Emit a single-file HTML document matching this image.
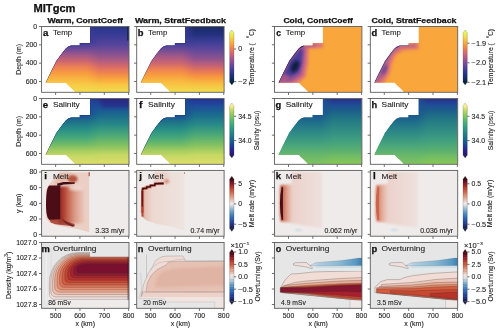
<!DOCTYPE html>
<html><head><meta charset="utf-8"><style>
html,body{margin:0;padding:0;background:#fff;width:500px;height:332px;overflow:hidden}
svg{display:block;will-change:transform}
text{font-family:"Liberation Sans", sans-serif}
</style></head><body>
<svg width="500" height="332" viewBox="0 0 500 332">
<defs><linearGradient id="lmaskg" gradientUnits="objectBoundingBox" x1="0" y1="0" x2="1" y2="0"><stop offset="0" stop-color="#fff"/><stop offset="0.78" stop-color="#fff"/><stop offset="1" stop-color="#000"/></linearGradient><linearGradient id="g1" gradientUnits="userSpaceOnUse" x1="0" y1="26.5" x2="0" y2="92.3"><stop offset="0.000" stop-color="#27358a"/><stop offset="0.129" stop-color="#383b95"/><stop offset="0.281" stop-color="#57459c"/><stop offset="0.418" stop-color="#875191"/><stop offset="0.524" stop-color="#b25d80"/><stop offset="0.608" stop-color="#d66a6a"/><stop offset="0.699" stop-color="#ee8350"/><stop offset="0.790" stop-color="#f8a23e"/><stop offset="0.889" stop-color="#f8c742"/><stop offset="1.000" stop-color="#f0dc52"/></linearGradient><linearGradient id="g2" gradientUnits="userSpaceOnUse" x1="0" y1="26.5" x2="0" y2="92.3"><stop offset="0.251" stop-color="#3c3c96"/><stop offset="0.342" stop-color="#6c4a98"/><stop offset="0.433" stop-color="#a05888"/><stop offset="0.524" stop-color="#cc6670"/><stop offset="0.616" stop-color="#ec8054"/><stop offset="0.707" stop-color="#f89c40"/><stop offset="0.798" stop-color="#f8b640"/><stop offset="0.889" stop-color="#f8cc46"/><stop offset="1.000" stop-color="#f0dc52"/></linearGradient><mask id="m2" maskUnits="userSpaceOnUse" x="41.6" y="26.5" width="58" height="65.8"><rect x="41.6" y="26.5" width="58" height="65.8" fill="url(#lmaskg)"/></mask><clipPath id="c1"><polygon points="90.00,26.50 129.00,26.50 129.00,92.30 75.40,92.30 73.80,90.50 72.40,89.00 70.80,87.50 69.20,86.00 67.60,84.50 65.90,82.70 45.60,82.70 50.30,73.00 56.30,61.00 61.60,53.80 64.00,50.80 65.80,48.40 68.20,46.60 71.20,45.40 79.80,45.40 79.80,43.00 90.00,43.00"/></clipPath><linearGradient id="g3" gradientUnits="userSpaceOnUse" x1="0" y1="26.5" x2="0" y2="92.3"><stop offset="0.000" stop-color="#1c2a68"/><stop offset="0.114" stop-color="#22317c"/><stop offset="0.220" stop-color="#3a3c94"/><stop offset="0.342" stop-color="#5c479c"/><stop offset="0.479" stop-color="#8a5290"/><stop offset="0.585" stop-color="#bf6079"/><stop offset="0.676" stop-color="#e67658"/><stop offset="0.767" stop-color="#f7983f"/><stop offset="0.874" stop-color="#f8c040"/><stop offset="1.000" stop-color="#f0dc52"/></linearGradient><linearGradient id="g4" gradientUnits="userSpaceOnUse" x1="0" y1="26.5" x2="0" y2="92.3"><stop offset="0.251" stop-color="#3c3c96"/><stop offset="0.342" stop-color="#6a4a98"/><stop offset="0.448" stop-color="#a05888"/><stop offset="0.555" stop-color="#cc6670"/><stop offset="0.646" stop-color="#ec8054"/><stop offset="0.737" stop-color="#f89c40"/><stop offset="0.828" stop-color="#f8b840"/><stop offset="0.919" stop-color="#f8cc46"/><stop offset="1.000" stop-color="#f0dc52"/></linearGradient><mask id="m4" maskUnits="userSpaceOnUse" x="136.7" y="26.5" width="58" height="65.8"><rect x="136.7" y="26.5" width="58" height="65.8" fill="url(#lmaskg)"/></mask><clipPath id="c2"><polygon points="185.10,26.50 224.10,26.50 224.10,92.30 170.50,92.30 168.90,90.50 167.50,89.00 165.90,87.50 164.30,86.00 162.70,84.50 161.00,82.70 140.70,82.70 145.40,73.00 151.40,61.00 156.70,53.80 159.10,50.80 160.90,48.40 163.30,46.60 166.30,45.40 174.90,45.40 174.90,43.00 185.10,43.00"/></clipPath><clipPath id="c3"><polygon points="322.90,26.50 361.90,26.50 361.90,92.30 308.30,92.30 306.70,90.50 305.30,89.00 303.70,87.50 302.10,86.00 300.50,84.50 298.80,82.70 278.50,82.70 283.20,73.00 289.20,61.00 294.50,53.80 296.90,50.80 298.70,48.40 301.10,46.60 304.10,45.40 312.70,45.40 312.70,43.00 322.90,43.00"/></clipPath><clipPath id="c4"><polygon points="418.70,26.50 457.70,26.50 457.70,92.30 404.10,92.30 402.50,90.50 401.10,89.00 399.50,87.50 397.90,86.00 396.30,84.50 394.60,82.70 374.30,82.70 379.00,73.00 385.00,61.00 390.30,53.80 392.70,50.80 394.50,48.40 396.90,46.60 399.90,45.40 408.50,45.40 408.50,43.00 418.70,43.00"/></clipPath><filter id="blur2" x="-20%" y="-20%" width="140%" height="140%"><feGaussianBlur stdDeviation="1.6"/></filter><linearGradient id="g5" gradientUnits="userSpaceOnUse" x1="0" y1="98.5" x2="0" y2="164.3"><stop offset="0.000" stop-color="#2a2d8a"/><stop offset="0.106" stop-color="#1f4a9a"/><stop offset="0.243" stop-color="#1a688e"/><stop offset="0.395" stop-color="#278887"/><stop offset="0.547" stop-color="#48a779"/><stop offset="0.699" stop-color="#7dbf62"/><stop offset="0.851" stop-color="#c4d762"/><stop offset="1.000" stop-color="#e0de6c"/></linearGradient><linearGradient id="g6" gradientUnits="userSpaceOnUse" x1="0" y1="98.5" x2="0" y2="164.3"><stop offset="0.251" stop-color="#1c4c96"/><stop offset="0.350" stop-color="#1e7088"/><stop offset="0.456" stop-color="#268c86"/><stop offset="0.578" stop-color="#40a47c"/><stop offset="0.699" stop-color="#70ba68"/><stop offset="0.790" stop-color="#a4cc60"/><stop offset="0.881" stop-color="#c8d864"/><stop offset="1.000" stop-color="#e0de6c"/></linearGradient><mask id="m6" maskUnits="userSpaceOnUse" x="41.6" y="98.5" width="58" height="65.8"><rect x="41.6" y="98.5" width="58" height="65.8" fill="url(#lmaskg)"/></mask><clipPath id="c5"><polygon points="90.00,98.50 129.00,98.50 129.00,164.30 75.40,164.30 73.80,162.50 72.40,161.00 70.80,159.50 69.20,158.00 67.60,156.50 65.90,154.70 45.60,154.70 50.30,145.00 56.30,133.00 61.60,125.80 64.00,122.80 65.80,120.40 68.20,118.60 71.20,117.40 79.80,117.40 79.80,115.00 90.00,115.00"/></clipPath><linearGradient id="g7" gradientUnits="userSpaceOnUse" x1="0" y1="98.5" x2="0" y2="164.3"><stop offset="0.000" stop-color="#26309a"/><stop offset="0.106" stop-color="#1f4c9a"/><stop offset="0.243" stop-color="#1a6a8e"/><stop offset="0.395" stop-color="#288a87"/><stop offset="0.547" stop-color="#4aa878"/><stop offset="0.699" stop-color="#80c062"/><stop offset="0.851" stop-color="#c4d762"/><stop offset="1.000" stop-color="#e0de6c"/></linearGradient><linearGradient id="g8" gradientUnits="userSpaceOnUse" x1="0" y1="98.5" x2="0" y2="164.3"><stop offset="0.251" stop-color="#1c4c96"/><stop offset="0.350" stop-color="#1e7088"/><stop offset="0.456" stop-color="#268c86"/><stop offset="0.578" stop-color="#40a47c"/><stop offset="0.699" stop-color="#70ba68"/><stop offset="0.790" stop-color="#a4cc60"/><stop offset="0.881" stop-color="#c8d864"/><stop offset="1.000" stop-color="#e0de6c"/></linearGradient><mask id="m8" maskUnits="userSpaceOnUse" x="136.7" y="98.5" width="58" height="65.8"><rect x="136.7" y="98.5" width="58" height="65.8" fill="url(#lmaskg)"/></mask><clipPath id="c6"><polygon points="185.10,98.50 224.10,98.50 224.10,164.30 170.50,164.30 168.90,162.50 167.50,161.00 165.90,159.50 164.30,158.00 162.70,156.50 161.00,154.70 140.70,154.70 145.40,145.00 151.40,133.00 156.70,125.80 159.10,122.80 160.90,120.40 163.30,118.60 166.30,117.40 174.90,117.40 174.90,115.00 185.10,115.00"/></clipPath><linearGradient id="g9" gradientUnits="userSpaceOnUse" x1="0" y1="98.5" x2="0" y2="164.3"><stop offset="0.000" stop-color="#2a2f8e"/><stop offset="0.099" stop-color="#1e4d95"/><stop offset="0.205" stop-color="#1b6388"/><stop offset="0.327" stop-color="#247985"/><stop offset="0.479" stop-color="#318b84"/><stop offset="0.631" stop-color="#3f9f80"/><stop offset="0.783" stop-color="#59af71"/><stop offset="0.904" stop-color="#77bf61"/><stop offset="1.000" stop-color="#8ac858"/></linearGradient><linearGradient id="g10" gradientUnits="userSpaceOnUse" x1="0" y1="98.5" x2="0" y2="164.3"><stop offset="0.251" stop-color="#1d5690"/><stop offset="0.365" stop-color="#1f6e8a"/><stop offset="0.486" stop-color="#2a8487"/><stop offset="0.608" stop-color="#389682"/><stop offset="0.729" stop-color="#4ca87a"/><stop offset="0.851" stop-color="#66b66c"/><stop offset="1.000" stop-color="#80c460"/></linearGradient><mask id="m10" maskUnits="userSpaceOnUse" x="274.5" y="98.5" width="58" height="65.8"><rect x="274.5" y="98.5" width="58" height="65.8" fill="url(#lmaskg)"/></mask><clipPath id="c7"><polygon points="322.90,98.50 361.90,98.50 361.90,164.30 308.30,164.30 306.70,162.50 305.30,161.00 303.70,159.50 302.10,158.00 300.50,156.50 298.80,154.70 278.50,154.70 283.20,145.00 289.20,133.00 294.50,125.80 296.90,122.80 298.70,120.40 301.10,118.60 304.10,117.40 312.70,117.40 312.70,115.00 322.90,115.00"/></clipPath><linearGradient id="g11" gradientUnits="userSpaceOnUse" x1="0" y1="98.5" x2="0" y2="164.3"><stop offset="0.000" stop-color="#2a2f8e"/><stop offset="0.099" stop-color="#1e4d95"/><stop offset="0.205" stop-color="#1b6388"/><stop offset="0.327" stop-color="#247985"/><stop offset="0.479" stop-color="#318b84"/><stop offset="0.631" stop-color="#3f9f80"/><stop offset="0.783" stop-color="#59af71"/><stop offset="0.904" stop-color="#77bf61"/><stop offset="1.000" stop-color="#8ac858"/></linearGradient><linearGradient id="g12" gradientUnits="userSpaceOnUse" x1="0" y1="98.5" x2="0" y2="164.3"><stop offset="0.251" stop-color="#1d5690"/><stop offset="0.365" stop-color="#1f6e8a"/><stop offset="0.486" stop-color="#2a8487"/><stop offset="0.608" stop-color="#389682"/><stop offset="0.729" stop-color="#4ca87a"/><stop offset="0.851" stop-color="#66b66c"/><stop offset="1.000" stop-color="#80c460"/></linearGradient><mask id="m12" maskUnits="userSpaceOnUse" x="370.3" y="98.5" width="58" height="65.8"><rect x="370.3" y="98.5" width="58" height="65.8" fill="url(#lmaskg)"/></mask><clipPath id="c8"><polygon points="418.70,98.50 457.70,98.50 457.70,164.30 404.10,164.30 402.50,162.50 401.10,161.00 399.50,159.50 397.90,158.00 396.30,156.50 394.60,154.70 374.30,154.70 379.00,145.00 385.00,133.00 390.30,125.80 392.70,122.80 394.50,120.40 396.90,118.60 399.90,117.40 408.50,117.40 408.50,115.00 418.70,115.00"/></clipPath><filter id="bl06" x="-10%" y="-10%" width="120%" height="120%"><feGaussianBlur stdDeviation="0.6"/></filter><filter id="bl1" x="-20%" y="-20%" width="140%" height="140%"><feGaussianBlur stdDeviation="1.0"/></filter><filter id="bl15" x="-30%" y="-30%" width="160%" height="160%"><feGaussianBlur stdDeviation="1.5"/></filter><filter id="bl25" x="-30%" y="-30%" width="160%" height="160%"><feGaussianBlur stdDeviation="2.5"/></filter><clipPath id="pc9"><rect x="41.6" y="170.4" width="87.4" height="65.8"/></clipPath><linearGradient id="g13" gradientUnits="userSpaceOnUse" x1="58.6" y1="0" x2="85.6" y2="0"><stop offset="0.000" stop-color="#8a2228"/><stop offset="0.150" stop-color="#a83a2c"/><stop offset="0.350" stop-color="#c46650"/><stop offset="0.600" stop-color="#dc9a88"/><stop offset="0.850" stop-color="#e6bcae"/><stop offset="1.000" stop-color="#ebcfc5"/></linearGradient><clipPath id="pc10"><rect x="136.7" y="170.4" width="87.4" height="65.8"/></clipPath><linearGradient id="g14" gradientUnits="userSpaceOnUse" x1="141.7" y1="0" x2="184.7" y2="0"><stop offset="0.000" stop-color="#d88670"/><stop offset="0.080" stop-color="#e6c0b2"/><stop offset="0.250" stop-color="#ecd8d0"/><stop offset="1.000" stop-color="#eee4e0"/></linearGradient><clipPath id="pc11"><rect x="274.5" y="170.4" width="87.4" height="65.8"/></clipPath><linearGradient id="g15" gradientUnits="userSpaceOnUse" x1="279.5" y1="0" x2="322.5" y2="0"><stop offset="0.000" stop-color="#e3b3a4"/><stop offset="0.300" stop-color="#ebd2ca"/><stop offset="1.000" stop-color="#eee0dc"/></linearGradient><linearGradient id="g16" gradientUnits="userSpaceOnUse" x1="279.5" y1="0" x2="292.5" y2="0"><stop offset="0.000" stop-color="#b8402e"/><stop offset="0.250" stop-color="#cc6a52"/><stop offset="0.600" stop-color="#e0a492"/><stop offset="1.000" stop-color="#ebd0c8"/></linearGradient><clipPath id="pc12"><rect x="370.3" y="170.4" width="87.4" height="65.8"/></clipPath><linearGradient id="g17" gradientUnits="userSpaceOnUse" x1="375.3" y1="0" x2="418.3" y2="0"><stop offset="0.000" stop-color="#e6b8a8"/><stop offset="0.300" stop-color="#ebd2ca"/><stop offset="1.000" stop-color="#eee2de"/></linearGradient><linearGradient id="g18" gradientUnits="userSpaceOnUse" x1="375.3" y1="0" x2="388.3" y2="0"><stop offset="0.000" stop-color="#d06a52"/><stop offset="0.300" stop-color="#dc9078"/><stop offset="0.650" stop-color="#e6b8a8"/><stop offset="1.000" stop-color="#ebd2ca"/></linearGradient><clipPath id="pc13"><rect x="41.6" y="242.5" width="87.4" height="65.8"/></clipPath><clipPath id="pc14"><rect x="136.7" y="242.5" width="87.4" height="65.8"/></clipPath><clipPath id="pc15"><rect x="274.5" y="242.5" width="87.4" height="65.8"/></clipPath><linearGradient id="g19" gradientUnits="userSpaceOnUse" x1="311.9" y1="0" x2="361.9" y2="0"><stop offset="0.000" stop-color="#d4e2ea"/><stop offset="0.120" stop-color="#b2cede"/><stop offset="0.550" stop-color="#8ab8d2"/><stop offset="0.880" stop-color="#5898c2"/><stop offset="1.000" stop-color="#3a80b2"/></linearGradient><clipPath id="pc16"><rect x="370.3" y="242.5" width="87.4" height="65.8"/></clipPath><linearGradient id="g20" gradientUnits="userSpaceOnUse" x1="407.70000000000005" y1="0" x2="457.70000000000005" y2="0"><stop offset="0.000" stop-color="#d4e2ea"/><stop offset="0.120" stop-color="#b2cede"/><stop offset="0.550" stop-color="#8ab8d2"/><stop offset="0.880" stop-color="#5898c2"/><stop offset="1.000" stop-color="#3a80b2"/></linearGradient><linearGradient id="cb21" gradientUnits="userSpaceOnUse" x1="0" y1="32.8" x2="0" y2="82.2"><stop offset="0.0000" stop-color="#e8f65e"/><stop offset="0.0417" stop-color="#ece955"/><stop offset="0.0833" stop-color="#f0db4c"/><stop offset="0.1250" stop-color="#f4cc44"/><stop offset="0.1667" stop-color="#f8bb3e"/><stop offset="0.2083" stop-color="#f8aa3c"/><stop offset="0.2500" stop-color="#f7993e"/><stop offset="0.2917" stop-color="#f38a45"/><stop offset="0.3333" stop-color="#ed7b54"/><stop offset="0.3750" stop-color="#e46f62"/><stop offset="0.4167" stop-color="#d56671"/><stop offset="0.4583" stop-color="#c55f80"/><stop offset="0.5000" stop-color="#b25a88"/><stop offset="0.5417" stop-color="#a05491"/><stop offset="0.5833" stop-color="#8d4f96"/><stop offset="0.6250" stop-color="#7a4a9b"/><stop offset="0.6667" stop-color="#67469c"/><stop offset="0.7083" stop-color="#54419c"/><stop offset="0.7500" stop-color="#423c9a"/><stop offset="0.7917" stop-color="#323895"/><stop offset="0.8333" stop-color="#25348c"/><stop offset="0.8750" stop-color="#1c317a"/><stop offset="0.9167" stop-color="#142e68"/><stop offset="0.9583" stop-color="#0c2853"/><stop offset="1.0000" stop-color="#04233e"/></linearGradient><linearGradient id="cb22" gradientUnits="userSpaceOnUse" x1="0" y1="32.8" x2="0" y2="82.2"><stop offset="0.0000" stop-color="#e8f65e"/><stop offset="0.0417" stop-color="#ece955"/><stop offset="0.0833" stop-color="#f0db4c"/><stop offset="0.1250" stop-color="#f4cc44"/><stop offset="0.1667" stop-color="#f8bb3e"/><stop offset="0.2083" stop-color="#f8aa3c"/><stop offset="0.2500" stop-color="#f7993e"/><stop offset="0.2917" stop-color="#f38a45"/><stop offset="0.3333" stop-color="#ed7b54"/><stop offset="0.3750" stop-color="#e46f62"/><stop offset="0.4167" stop-color="#d56671"/><stop offset="0.4583" stop-color="#c55f80"/><stop offset="0.5000" stop-color="#b25a88"/><stop offset="0.5417" stop-color="#a05491"/><stop offset="0.5833" stop-color="#8d4f96"/><stop offset="0.6250" stop-color="#7a4a9b"/><stop offset="0.6667" stop-color="#67469c"/><stop offset="0.7083" stop-color="#54419c"/><stop offset="0.7500" stop-color="#423c9a"/><stop offset="0.7917" stop-color="#323895"/><stop offset="0.8333" stop-color="#25348c"/><stop offset="0.8750" stop-color="#1c317a"/><stop offset="0.9167" stop-color="#142e68"/><stop offset="0.9583" stop-color="#0c2853"/><stop offset="1.0000" stop-color="#04233e"/></linearGradient><linearGradient id="cb23" gradientUnits="userSpaceOnUse" x1="0" y1="105.8" x2="0" y2="155.2"><stop offset="0.0000" stop-color="#fdef9a"/><stop offset="0.0417" stop-color="#e3e482"/><stop offset="0.0833" stop-color="#c9d96a"/><stop offset="0.1250" stop-color="#b0d262"/><stop offset="0.1667" stop-color="#98cd5e"/><stop offset="0.2083" stop-color="#82c761"/><stop offset="0.2500" stop-color="#6dc068"/><stop offset="0.2917" stop-color="#5bba6f"/><stop offset="0.3333" stop-color="#4bb277"/><stop offset="0.3750" stop-color="#3eab7d"/><stop offset="0.4167" stop-color="#35a281"/><stop offset="0.4583" stop-color="#2e9985"/><stop offset="0.5000" stop-color="#2a9088"/><stop offset="0.5417" stop-color="#25868a"/><stop offset="0.5833" stop-color="#227d8b"/><stop offset="0.6250" stop-color="#20748c"/><stop offset="0.6667" stop-color="#1d698e"/><stop offset="0.7083" stop-color="#1b5f91"/><stop offset="0.7500" stop-color="#1a5294"/><stop offset="0.7917" stop-color="#1b4598"/><stop offset="0.8333" stop-color="#1e3798"/><stop offset="0.8750" stop-color="#242a93"/><stop offset="0.9167" stop-color="#291f8c"/><stop offset="0.9583" stop-color="#2a1c7c"/><stop offset="1.0000" stop-color="#2a186c"/></linearGradient><linearGradient id="cb24" gradientUnits="userSpaceOnUse" x1="0" y1="105.8" x2="0" y2="155.2"><stop offset="0.0000" stop-color="#fdef9a"/><stop offset="0.0417" stop-color="#e3e482"/><stop offset="0.0833" stop-color="#c9d96a"/><stop offset="0.1250" stop-color="#b0d262"/><stop offset="0.1667" stop-color="#98cd5e"/><stop offset="0.2083" stop-color="#82c761"/><stop offset="0.2500" stop-color="#6dc068"/><stop offset="0.2917" stop-color="#5bba6f"/><stop offset="0.3333" stop-color="#4bb277"/><stop offset="0.3750" stop-color="#3eab7d"/><stop offset="0.4167" stop-color="#35a281"/><stop offset="0.4583" stop-color="#2e9985"/><stop offset="0.5000" stop-color="#2a9088"/><stop offset="0.5417" stop-color="#25868a"/><stop offset="0.5833" stop-color="#227d8b"/><stop offset="0.6250" stop-color="#20748c"/><stop offset="0.6667" stop-color="#1d698e"/><stop offset="0.7083" stop-color="#1b5f91"/><stop offset="0.7500" stop-color="#1a5294"/><stop offset="0.7917" stop-color="#1b4598"/><stop offset="0.8333" stop-color="#1e3798"/><stop offset="0.8750" stop-color="#242a93"/><stop offset="0.9167" stop-color="#291f8c"/><stop offset="0.9583" stop-color="#2a1c7c"/><stop offset="1.0000" stop-color="#2a186c"/></linearGradient><linearGradient id="cb25" gradientUnits="userSpaceOnUse" x1="0" y1="179.0" x2="0" y2="228.6"><stop offset="0.0000" stop-color="#3c0912"/><stop offset="0.0417" stop-color="#5e111c"/><stop offset="0.0833" stop-color="#801926"/><stop offset="0.1250" stop-color="#9a262c"/><stop offset="0.1667" stop-color="#af3831"/><stop offset="0.2083" stop-color="#c14b38"/><stop offset="0.2500" stop-color="#ca6149"/><stop offset="0.2917" stop-color="#d2785b"/><stop offset="0.3333" stop-color="#d98f74"/><stop offset="0.3750" stop-color="#dea690"/><stop offset="0.4167" stop-color="#e5bead"/><stop offset="0.4583" stop-color="#ebd5cc"/><stop offset="0.5000" stop-color="#f1edec"/><stop offset="0.5417" stop-color="#ced8e0"/><stop offset="0.5833" stop-color="#aac2d5"/><stop offset="0.6250" stop-color="#88aecc"/><stop offset="0.6667" stop-color="#669bc5"/><stop offset="0.7083" stop-color="#4889bf"/><stop offset="0.7500" stop-color="#3a78b8"/><stop offset="0.7917" stop-color="#2d66b1"/><stop offset="0.8333" stop-color="#2855a5"/><stop offset="0.8750" stop-color="#264497"/><stop offset="0.9167" stop-color="#233582"/><stop offset="0.9583" stop-color="#1d2863"/><stop offset="1.0000" stop-color="#181c43"/></linearGradient><linearGradient id="cb26" gradientUnits="userSpaceOnUse" x1="0" y1="179.0" x2="0" y2="228.6"><stop offset="0.0000" stop-color="#3c0912"/><stop offset="0.0417" stop-color="#5e111c"/><stop offset="0.0833" stop-color="#801926"/><stop offset="0.1250" stop-color="#9a262c"/><stop offset="0.1667" stop-color="#af3831"/><stop offset="0.2083" stop-color="#c14b38"/><stop offset="0.2500" stop-color="#ca6149"/><stop offset="0.2917" stop-color="#d2785b"/><stop offset="0.3333" stop-color="#d98f74"/><stop offset="0.3750" stop-color="#dea690"/><stop offset="0.4167" stop-color="#e5bead"/><stop offset="0.4583" stop-color="#ebd5cc"/><stop offset="0.5000" stop-color="#f1edec"/><stop offset="0.5417" stop-color="#ced8e0"/><stop offset="0.5833" stop-color="#aac2d5"/><stop offset="0.6250" stop-color="#88aecc"/><stop offset="0.6667" stop-color="#669bc5"/><stop offset="0.7083" stop-color="#4889bf"/><stop offset="0.7500" stop-color="#3a78b8"/><stop offset="0.7917" stop-color="#2d66b1"/><stop offset="0.8333" stop-color="#2855a5"/><stop offset="0.8750" stop-color="#264497"/><stop offset="0.9167" stop-color="#233582"/><stop offset="0.9583" stop-color="#1d2863"/><stop offset="1.0000" stop-color="#181c43"/></linearGradient><linearGradient id="cb27" gradientUnits="userSpaceOnUse" x1="0" y1="252.10000000000002" x2="0" y2="301.7"><stop offset="0.0000" stop-color="#500e18"/><stop offset="0.0500" stop-color="#500e18"/><stop offset="0.0500" stop-color="#7a1724"/><stop offset="0.1000" stop-color="#7a1724"/><stop offset="0.1000" stop-color="#9a262c"/><stop offset="0.1500" stop-color="#9a262c"/><stop offset="0.1500" stop-color="#b33c32"/><stop offset="0.2000" stop-color="#b33c32"/><stop offset="0.2000" stop-color="#c4543e"/><stop offset="0.2500" stop-color="#c4543e"/><stop offset="0.2500" stop-color="#cf6e54"/><stop offset="0.3000" stop-color="#cf6e54"/><stop offset="0.3000" stop-color="#d88a6e"/><stop offset="0.3500" stop-color="#d88a6e"/><stop offset="0.3500" stop-color="#dea690"/><stop offset="0.4000" stop-color="#dea690"/><stop offset="0.4000" stop-color="#e6c2b3"/><stop offset="0.4500" stop-color="#e6c2b3"/><stop offset="0.4500" stop-color="#eddfd9"/><stop offset="0.5000" stop-color="#eddfd9"/><stop offset="0.5000" stop-color="#dce0e5"/><stop offset="0.5500" stop-color="#dce0e5"/><stop offset="0.5500" stop-color="#b1c7d7"/><stop offset="0.6000" stop-color="#b1c7d7"/><stop offset="0.6000" stop-color="#88aecc"/><stop offset="0.6500" stop-color="#88aecc"/><stop offset="0.6500" stop-color="#5f97c4"/><stop offset="0.7000" stop-color="#5f97c4"/><stop offset="0.7000" stop-color="#4382bc"/><stop offset="0.7500" stop-color="#4382bc"/><stop offset="0.7500" stop-color="#326db4"/><stop offset="0.8000" stop-color="#326db4"/><stop offset="0.8000" stop-color="#2959a8"/><stop offset="0.8500" stop-color="#2959a8"/><stop offset="0.8500" stop-color="#264497"/><stop offset="0.9000" stop-color="#264497"/><stop offset="0.9000" stop-color="#22327c"/><stop offset="0.9500" stop-color="#22327c"/><stop offset="0.9500" stop-color="#1b2456"/><stop offset="1.0000" stop-color="#1b2456"/></linearGradient><linearGradient id="cb28" gradientUnits="userSpaceOnUse" x1="0" y1="252.10000000000002" x2="0" y2="301.7"><stop offset="0.0000" stop-color="#500e18"/><stop offset="0.0500" stop-color="#500e18"/><stop offset="0.0500" stop-color="#7a1724"/><stop offset="0.1000" stop-color="#7a1724"/><stop offset="0.1000" stop-color="#9a262c"/><stop offset="0.1500" stop-color="#9a262c"/><stop offset="0.1500" stop-color="#b33c32"/><stop offset="0.2000" stop-color="#b33c32"/><stop offset="0.2000" stop-color="#c4543e"/><stop offset="0.2500" stop-color="#c4543e"/><stop offset="0.2500" stop-color="#cf6e54"/><stop offset="0.3000" stop-color="#cf6e54"/><stop offset="0.3000" stop-color="#d88a6e"/><stop offset="0.3500" stop-color="#d88a6e"/><stop offset="0.3500" stop-color="#dea690"/><stop offset="0.4000" stop-color="#dea690"/><stop offset="0.4000" stop-color="#e6c2b3"/><stop offset="0.4500" stop-color="#e6c2b3"/><stop offset="0.4500" stop-color="#eddfd9"/><stop offset="0.5000" stop-color="#eddfd9"/><stop offset="0.5000" stop-color="#dce0e5"/><stop offset="0.5500" stop-color="#dce0e5"/><stop offset="0.5500" stop-color="#b1c7d7"/><stop offset="0.6000" stop-color="#b1c7d7"/><stop offset="0.6000" stop-color="#88aecc"/><stop offset="0.6500" stop-color="#88aecc"/><stop offset="0.6500" stop-color="#5f97c4"/><stop offset="0.7000" stop-color="#5f97c4"/><stop offset="0.7000" stop-color="#4382bc"/><stop offset="0.7500" stop-color="#4382bc"/><stop offset="0.7500" stop-color="#326db4"/><stop offset="0.8000" stop-color="#326db4"/><stop offset="0.8000" stop-color="#2959a8"/><stop offset="0.8500" stop-color="#2959a8"/><stop offset="0.8500" stop-color="#264497"/><stop offset="0.9000" stop-color="#264497"/><stop offset="0.9000" stop-color="#22327c"/><stop offset="0.9500" stop-color="#22327c"/><stop offset="0.9500" stop-color="#1b2456"/><stop offset="1.0000" stop-color="#1b2456"/></linearGradient></defs>
<rect width="500" height="332" fill="#fff"/>
<text x="33.50" y="12.20" font-size="10.123000000000001" text-anchor="start" fill="#111" font-weight="bold" stroke="#111" stroke-width="0.25" textLength="42.02" lengthAdjust="spacingAndGlyphs" >MITgcm</text>
<text x="85.30" y="22.80" font-size="7.897" text-anchor="middle" fill="#111" font-weight="bold" stroke="#111" stroke-width="0.25" textLength="75.40" lengthAdjust="spacingAndGlyphs" >Warm, ConstCoeff</text>
<text x="180.40" y="22.80" font-size="7.897" text-anchor="middle" fill="#111" font-weight="bold" stroke="#111" stroke-width="0.25" textLength="90.99" lengthAdjust="spacingAndGlyphs" >Warm, StratFeedback</text>
<text x="318.20" y="22.80" font-size="7.897" text-anchor="middle" fill="#111" font-weight="bold" stroke="#111" stroke-width="0.25" textLength="69.45" lengthAdjust="spacingAndGlyphs" >Cold, ConstCoeff</text>
<text x="414.00" y="22.80" font-size="7.897" text-anchor="middle" fill="#111" font-weight="bold" stroke="#111" stroke-width="0.25" textLength="85.04" lengthAdjust="spacingAndGlyphs" >Cold, StratFeedback</text>
<g clip-path="url(#c1)"><rect x="41.6" y="26.5" width="87.4" height="65.8" fill="url(#g1)"/><rect x="41.6" y="26.5" width="58" height="65.8" fill="url(#g2)" mask="url(#m2)"/><rect filter="url(#bl06)" x="127.0" y="24.5" width="4" height="16" fill="#0c1838" opacity="0.6"/>
<polyline points="45.40,82.90 50.30,73.00 56.30,61.00 61.60,53.80 64.00,50.80 65.80,48.40 68.20,46.60 71.20,45.40 79.80,45.40 79.80,43.00 90.00,43.00 90.00,26.50" fill="none" stroke="#2a3288" stroke-width="1.0" stroke-opacity="0.75"/>
</g>
<g clip-path="url(#c2)"><rect x="136.7" y="26.5" width="87.4" height="65.8" fill="url(#g3)"/><rect x="136.7" y="26.5" width="58" height="65.8" fill="url(#g4)" mask="url(#m4)"/>
<polyline points="140.50,82.90 145.40,73.00 151.40,61.00 156.70,53.80 159.10,50.80 160.90,48.40 163.30,46.60 166.30,45.40 174.90,45.40 174.90,43.00 185.10,43.00 185.10,26.50" fill="none" stroke="#2a3288" stroke-width="1.0" stroke-opacity="0.6"/>
</g>
<g clip-path="url(#c3)"><rect x="274.5" y="26.5" width="87.4" height="65.8" fill="#f9a63c"/>
<g filter="url(#blur2)"><polygon points="276.50,84.50 287.50,60.50 293.50,52.50 299.50,45.50 307.50,44.00 322.90,42.50 322.90,47.50 308.50,48.50 308.00,62.50 305.50,76.50 296.50,84.50" fill="#dc707a"/><polygon points="277.50,83.50 288.50,60.50 294.50,53.50 300.50,46.50 307.50,45.00 316.50,43.50 316.50,46.00 305.50,47.00 304.50,62.50 302.00,75.00 291.50,82.50" fill="#9a5292"/><polygon points="282.50,76.50 289.20,61.50 294.50,54.00 300.50,47.50 303.00,50.50 302.00,62.50 299.00,72.50 288.50,78.50" fill="#4a3c98"/></g>
<polyline filter="url(#bl06)" points="278.70,82.50 283.20,73.00 289.20,61.00 294.50,53.80 298.70,48.40 304.10,45.40" fill="none" stroke="#23286a" stroke-width="1.3"/>
<ellipse filter="url(#bl15)" cx="295.0" cy="66.5" rx="3.6" ry="6.5" transform="rotate(28 295.0 66.5)" fill="#0e1c40"/>
<polygon filter="url(#bl15)" points="278.50,82.50 284.50,73.50 290.50,76.50 286.50,81.50" fill="#b05a88" opacity="0.8"/>
</g>
<g clip-path="url(#c4)"><rect x="370.3" y="26.5" width="87.4" height="65.8" fill="#f9a63c"/>
<g filter="url(#blur2)"><polygon points="372.30,84.50 383.30,60.50 389.30,52.50 395.30,45.50 403.30,44.00 418.70,42.50 418.70,49.50 404.30,50.50 396.30,54.50 392.30,62.50 390.30,72.50 384.30,83.50" fill="#e87c66"/><polygon points="373.30,83.50 384.30,60.50 390.30,52.50 396.30,46.50 403.30,45.00 416.30,44.00 416.30,47.00 400.30,48.00 392.30,54.50 388.80,63.50 386.80,73.50 379.30,82.50" fill="#b05e88"/></g>
<polyline filter="url(#bl06)" points="374.30,82.50 379.00,73.00 385.00,61.00 390.30,53.80 394.50,48.40 399.90,45.40 408.50,45.40" fill="none" stroke="#3c3aa0" stroke-width="1.3"/>
<ellipse filter="url(#bl15)" cx="384.3" cy="69.5" rx="2.2" ry="5" transform="rotate(28 384.3 69.5)" fill="#6a4498" opacity="0.9"/>
</g>
<rect x="41.60" y="26.50" width="87.4" height="65.8" fill="none" stroke="#5c5c5c" stroke-width="0.9"/>
<line x1="55.60" y1="92.30" x2="55.60" y2="94.90" stroke="#5c5c5c" stroke-width="0.9"/>
<line x1="79.95" y1="92.30" x2="79.95" y2="94.90" stroke="#5c5c5c" stroke-width="0.9"/>
<line x1="104.30" y1="92.30" x2="104.30" y2="94.90" stroke="#5c5c5c" stroke-width="0.9"/>
<line x1="128.65" y1="92.30" x2="128.65" y2="94.90" stroke="#5c5c5c" stroke-width="0.9"/>
<line x1="39.00" y1="26.50" x2="41.60" y2="26.50" stroke="#5c5c5c" stroke-width="0.9"/>
<text x="37.20" y="28.70" font-size="6.6000000000000005" text-anchor="end" fill="#222" stroke="#222" stroke-width="0.1" textLength="3.82" lengthAdjust="spacingAndGlyphs" >0</text>
<line x1="39.00" y1="44.83" x2="41.60" y2="44.83" stroke="#5c5c5c" stroke-width="0.9"/>
<text x="37.20" y="47.03" font-size="6.6000000000000005" text-anchor="end" fill="#222" stroke="#222" stroke-width="0.1" textLength="11.45" lengthAdjust="spacingAndGlyphs" >200</text>
<line x1="39.00" y1="63.16" x2="41.60" y2="63.16" stroke="#5c5c5c" stroke-width="0.9"/>
<text x="37.20" y="65.36" font-size="6.6000000000000005" text-anchor="end" fill="#222" stroke="#222" stroke-width="0.1" textLength="11.45" lengthAdjust="spacingAndGlyphs" >400</text>
<line x1="39.00" y1="81.50" x2="41.60" y2="81.50" stroke="#5c5c5c" stroke-width="0.9"/>
<text x="37.20" y="83.70" font-size="6.6000000000000005" text-anchor="end" fill="#222" stroke="#222" stroke-width="0.1" textLength="11.45" lengthAdjust="spacingAndGlyphs" >600</text>
<text x="45.60" y="35.50" font-size="8.48" text-anchor="middle" fill="#111" font-weight="bold" stroke="#111" stroke-width="0.25" textLength="5.40" lengthAdjust="spacingAndGlyphs" >a</text>
<text x="52.90" y="35.40" font-size="7.9750000000000005" text-anchor="start" fill="#222" stroke="#222" stroke-width="0.1" textLength="19.32" lengthAdjust="spacingAndGlyphs" >Temp</text>
<rect x="136.70" y="26.50" width="87.4" height="65.8" fill="none" stroke="#5c5c5c" stroke-width="0.9"/>
<line x1="150.70" y1="92.30" x2="150.70" y2="94.90" stroke="#5c5c5c" stroke-width="0.9"/>
<line x1="175.05" y1="92.30" x2="175.05" y2="94.90" stroke="#5c5c5c" stroke-width="0.9"/>
<line x1="199.40" y1="92.30" x2="199.40" y2="94.90" stroke="#5c5c5c" stroke-width="0.9"/>
<line x1="223.75" y1="92.30" x2="223.75" y2="94.90" stroke="#5c5c5c" stroke-width="0.9"/>
<line x1="134.10" y1="26.50" x2="136.70" y2="26.50" stroke="#5c5c5c" stroke-width="0.9"/>
<line x1="134.10" y1="44.83" x2="136.70" y2="44.83" stroke="#5c5c5c" stroke-width="0.9"/>
<line x1="134.10" y1="63.16" x2="136.70" y2="63.16" stroke="#5c5c5c" stroke-width="0.9"/>
<line x1="134.10" y1="81.50" x2="136.70" y2="81.50" stroke="#5c5c5c" stroke-width="0.9"/>
<text x="140.70" y="35.50" font-size="8.48" text-anchor="middle" fill="#111" font-weight="bold" stroke="#111" stroke-width="0.25" textLength="5.73" lengthAdjust="spacingAndGlyphs" >b</text>
<text x="148.00" y="35.40" font-size="7.9750000000000005" text-anchor="start" fill="#222" stroke="#222" stroke-width="0.1" textLength="19.32" lengthAdjust="spacingAndGlyphs" >Temp</text>
<rect x="274.50" y="26.50" width="87.4" height="65.8" fill="none" stroke="#5c5c5c" stroke-width="0.9"/>
<line x1="288.50" y1="92.30" x2="288.50" y2="94.90" stroke="#5c5c5c" stroke-width="0.9"/>
<line x1="312.85" y1="92.30" x2="312.85" y2="94.90" stroke="#5c5c5c" stroke-width="0.9"/>
<line x1="337.20" y1="92.30" x2="337.20" y2="94.90" stroke="#5c5c5c" stroke-width="0.9"/>
<line x1="361.55" y1="92.30" x2="361.55" y2="94.90" stroke="#5c5c5c" stroke-width="0.9"/>
<line x1="271.90" y1="26.50" x2="274.50" y2="26.50" stroke="#5c5c5c" stroke-width="0.9"/>
<line x1="271.90" y1="44.83" x2="274.50" y2="44.83" stroke="#5c5c5c" stroke-width="0.9"/>
<line x1="271.90" y1="63.16" x2="274.50" y2="63.16" stroke="#5c5c5c" stroke-width="0.9"/>
<line x1="271.90" y1="81.50" x2="274.50" y2="81.50" stroke="#5c5c5c" stroke-width="0.9"/>
<text x="278.50" y="35.50" font-size="8.48" text-anchor="middle" fill="#111" font-weight="bold" stroke="#111" stroke-width="0.25" textLength="4.74" lengthAdjust="spacingAndGlyphs" >c</text>
<text x="285.80" y="35.40" font-size="7.9750000000000005" text-anchor="start" fill="#222" stroke="#222" stroke-width="0.1" textLength="19.32" lengthAdjust="spacingAndGlyphs" >Temp</text>
<rect x="370.30" y="26.50" width="87.4" height="65.8" fill="none" stroke="#5c5c5c" stroke-width="0.9"/>
<line x1="384.30" y1="92.30" x2="384.30" y2="94.90" stroke="#5c5c5c" stroke-width="0.9"/>
<line x1="408.65" y1="92.30" x2="408.65" y2="94.90" stroke="#5c5c5c" stroke-width="0.9"/>
<line x1="433.00" y1="92.30" x2="433.00" y2="94.90" stroke="#5c5c5c" stroke-width="0.9"/>
<line x1="457.35" y1="92.30" x2="457.35" y2="94.90" stroke="#5c5c5c" stroke-width="0.9"/>
<line x1="367.70" y1="26.50" x2="370.30" y2="26.50" stroke="#5c5c5c" stroke-width="0.9"/>
<line x1="367.70" y1="44.83" x2="370.30" y2="44.83" stroke="#5c5c5c" stroke-width="0.9"/>
<line x1="367.70" y1="63.16" x2="370.30" y2="63.16" stroke="#5c5c5c" stroke-width="0.9"/>
<line x1="367.70" y1="81.50" x2="370.30" y2="81.50" stroke="#5c5c5c" stroke-width="0.9"/>
<text x="374.30" y="35.50" font-size="8.48" text-anchor="middle" fill="#111" font-weight="bold" stroke="#111" stroke-width="0.25" textLength="5.73" lengthAdjust="spacingAndGlyphs" >d</text>
<text x="381.60" y="35.40" font-size="7.9750000000000005" text-anchor="start" fill="#222" stroke="#222" stroke-width="0.1" textLength="19.32" lengthAdjust="spacingAndGlyphs" >Temp</text>
<g clip-path="url(#c5)"><rect x="41.6" y="98.5" width="87.4" height="65.8" fill="url(#g5)"/><rect x="41.6" y="98.5" width="58" height="65.8" fill="url(#g6)" mask="url(#m6)"/>
<rect filter="url(#bl15)" x="101.6" y="95.5" width="30" height="12" fill="#2c2480" opacity="0.55"/>
<polyline points="45.40,154.90 50.30,145.00 56.30,133.00 61.60,125.80 64.00,122.80 65.80,120.40 68.20,118.60 71.20,117.40 79.80,117.40 79.80,115.00 90.00,115.00 90.00,98.50" fill="none" stroke="#242c8a" stroke-width="1.0" stroke-opacity="0.7"/>
</g>
<rect x="41.60" y="98.50" width="87.4" height="65.8" fill="none" stroke="#5c5c5c" stroke-width="0.9"/>
<line x1="55.60" y1="164.30" x2="55.60" y2="166.90" stroke="#5c5c5c" stroke-width="0.9"/>
<line x1="79.95" y1="164.30" x2="79.95" y2="166.90" stroke="#5c5c5c" stroke-width="0.9"/>
<line x1="104.30" y1="164.30" x2="104.30" y2="166.90" stroke="#5c5c5c" stroke-width="0.9"/>
<line x1="128.65" y1="164.30" x2="128.65" y2="166.90" stroke="#5c5c5c" stroke-width="0.9"/>
<line x1="39.00" y1="98.50" x2="41.60" y2="98.50" stroke="#5c5c5c" stroke-width="0.9"/>
<text x="37.20" y="100.70" font-size="6.6000000000000005" text-anchor="end" fill="#222" stroke="#222" stroke-width="0.1" textLength="3.82" lengthAdjust="spacingAndGlyphs" >0</text>
<line x1="39.00" y1="116.83" x2="41.60" y2="116.83" stroke="#5c5c5c" stroke-width="0.9"/>
<text x="37.20" y="119.03" font-size="6.6000000000000005" text-anchor="end" fill="#222" stroke="#222" stroke-width="0.1" textLength="11.45" lengthAdjust="spacingAndGlyphs" >200</text>
<line x1="39.00" y1="135.16" x2="41.60" y2="135.16" stroke="#5c5c5c" stroke-width="0.9"/>
<text x="37.20" y="137.36" font-size="6.6000000000000005" text-anchor="end" fill="#222" stroke="#222" stroke-width="0.1" textLength="11.45" lengthAdjust="spacingAndGlyphs" >400</text>
<line x1="39.00" y1="153.50" x2="41.60" y2="153.50" stroke="#5c5c5c" stroke-width="0.9"/>
<text x="37.20" y="155.70" font-size="6.6000000000000005" text-anchor="end" fill="#222" stroke="#222" stroke-width="0.1" textLength="11.45" lengthAdjust="spacingAndGlyphs" >600</text>
<text x="45.60" y="107.50" font-size="8.48" text-anchor="middle" fill="#111" font-weight="bold" stroke="#111" stroke-width="0.25" textLength="5.43" lengthAdjust="spacingAndGlyphs" >e</text>
<text x="52.90" y="107.40" font-size="7.9750000000000005" text-anchor="start" fill="#222" stroke="#222" stroke-width="0.1" textLength="26.82" lengthAdjust="spacingAndGlyphs" >Salinity</text>
<g clip-path="url(#c6)"><rect x="136.7" y="98.5" width="87.4" height="65.8" fill="url(#g7)"/><rect x="136.7" y="98.5" width="58" height="65.8" fill="url(#g8)" mask="url(#m8)"/>
<polyline points="140.50,154.90 145.40,145.00 151.40,133.00 156.70,125.80 159.10,122.80 160.90,120.40 163.30,118.60 166.30,117.40 174.90,117.40 174.90,115.00 185.10,115.00 185.10,98.50" fill="none" stroke="#242c8a" stroke-width="1.0" stroke-opacity="0.7"/>
</g>
<rect x="136.70" y="98.50" width="87.4" height="65.8" fill="none" stroke="#5c5c5c" stroke-width="0.9"/>
<line x1="150.70" y1="164.30" x2="150.70" y2="166.90" stroke="#5c5c5c" stroke-width="0.9"/>
<line x1="175.05" y1="164.30" x2="175.05" y2="166.90" stroke="#5c5c5c" stroke-width="0.9"/>
<line x1="199.40" y1="164.30" x2="199.40" y2="166.90" stroke="#5c5c5c" stroke-width="0.9"/>
<line x1="223.75" y1="164.30" x2="223.75" y2="166.90" stroke="#5c5c5c" stroke-width="0.9"/>
<line x1="134.10" y1="98.50" x2="136.70" y2="98.50" stroke="#5c5c5c" stroke-width="0.9"/>
<line x1="134.10" y1="116.83" x2="136.70" y2="116.83" stroke="#5c5c5c" stroke-width="0.9"/>
<line x1="134.10" y1="135.16" x2="136.70" y2="135.16" stroke="#5c5c5c" stroke-width="0.9"/>
<line x1="134.10" y1="153.50" x2="136.70" y2="153.50" stroke="#5c5c5c" stroke-width="0.9"/>
<text x="140.70" y="107.50" font-size="8.48" text-anchor="middle" fill="#111" font-weight="bold" stroke="#111" stroke-width="0.25" textLength="3.48" lengthAdjust="spacingAndGlyphs" >f</text>
<text x="148.00" y="107.40" font-size="7.9750000000000005" text-anchor="start" fill="#222" stroke="#222" stroke-width="0.1" textLength="26.82" lengthAdjust="spacingAndGlyphs" >Salinity</text>
<g clip-path="url(#c7)"><rect x="274.5" y="98.5" width="87.4" height="65.8" fill="url(#g9)"/><rect x="274.5" y="98.5" width="58" height="65.8" fill="url(#g10)" mask="url(#m10)"/>
</g>
<rect x="274.50" y="98.50" width="87.4" height="65.8" fill="none" stroke="#5c5c5c" stroke-width="0.9"/>
<line x1="288.50" y1="164.30" x2="288.50" y2="166.90" stroke="#5c5c5c" stroke-width="0.9"/>
<line x1="312.85" y1="164.30" x2="312.85" y2="166.90" stroke="#5c5c5c" stroke-width="0.9"/>
<line x1="337.20" y1="164.30" x2="337.20" y2="166.90" stroke="#5c5c5c" stroke-width="0.9"/>
<line x1="361.55" y1="164.30" x2="361.55" y2="166.90" stroke="#5c5c5c" stroke-width="0.9"/>
<line x1="271.90" y1="98.50" x2="274.50" y2="98.50" stroke="#5c5c5c" stroke-width="0.9"/>
<line x1="271.90" y1="116.83" x2="274.50" y2="116.83" stroke="#5c5c5c" stroke-width="0.9"/>
<line x1="271.90" y1="135.16" x2="274.50" y2="135.16" stroke="#5c5c5c" stroke-width="0.9"/>
<line x1="271.90" y1="153.50" x2="274.50" y2="153.50" stroke="#5c5c5c" stroke-width="0.9"/>
<text x="278.50" y="107.50" font-size="8.48" text-anchor="middle" fill="#111" font-weight="bold" stroke="#111" stroke-width="0.25" textLength="5.73" lengthAdjust="spacingAndGlyphs" >g</text>
<text x="285.80" y="107.40" font-size="7.9750000000000005" text-anchor="start" fill="#222" stroke="#222" stroke-width="0.1" textLength="26.82" lengthAdjust="spacingAndGlyphs" >Salinity</text>
<g clip-path="url(#c8)"><rect x="370.3" y="98.5" width="87.4" height="65.8" fill="url(#g11)"/><rect x="370.3" y="98.5" width="58" height="65.8" fill="url(#g12)" mask="url(#m12)"/>
</g>
<rect x="370.30" y="98.50" width="87.4" height="65.8" fill="none" stroke="#5c5c5c" stroke-width="0.9"/>
<line x1="384.30" y1="164.30" x2="384.30" y2="166.90" stroke="#5c5c5c" stroke-width="0.9"/>
<line x1="408.65" y1="164.30" x2="408.65" y2="166.90" stroke="#5c5c5c" stroke-width="0.9"/>
<line x1="433.00" y1="164.30" x2="433.00" y2="166.90" stroke="#5c5c5c" stroke-width="0.9"/>
<line x1="457.35" y1="164.30" x2="457.35" y2="166.90" stroke="#5c5c5c" stroke-width="0.9"/>
<line x1="367.70" y1="98.50" x2="370.30" y2="98.50" stroke="#5c5c5c" stroke-width="0.9"/>
<line x1="367.70" y1="116.83" x2="370.30" y2="116.83" stroke="#5c5c5c" stroke-width="0.9"/>
<line x1="367.70" y1="135.16" x2="370.30" y2="135.16" stroke="#5c5c5c" stroke-width="0.9"/>
<line x1="367.70" y1="153.50" x2="370.30" y2="153.50" stroke="#5c5c5c" stroke-width="0.9"/>
<text x="374.30" y="107.50" font-size="8.48" text-anchor="middle" fill="#111" font-weight="bold" stroke="#111" stroke-width="0.25" textLength="5.70" lengthAdjust="spacingAndGlyphs" >h</text>
<text x="381.60" y="107.40" font-size="7.9750000000000005" text-anchor="start" fill="#222" stroke="#222" stroke-width="0.1" textLength="26.82" lengthAdjust="spacingAndGlyphs" >Salinity</text>
<rect x="41.6" y="170.4" width="87.4" height="65.8" fill="#efebea"/>
<g clip-path="url(#pc9)">
<polygon filter="url(#bl06)" points="59.40,172.20 89.20,172.20 89.20,232.20 77.60,228.90 66.60,227.20 55.60,224.90 49.60,222.40 46.20,218.40 46.20,189.40 47.60,186.20" fill="#ebcfc5"/>
<rect filter="url(#bl1)" x="58.6" y="186.4" width="27" height="37" fill="url(#g13)"/>
<polygon filter="url(#bl1)" points="59.60,172.40 71.60,172.40 69.60,178.40 63.60,182.40 53.60,185.40" fill="#e6bcae"/>
<g filter="url(#bl06)">
<path d="M49.6,185.6 L60.3,185.4 L60.3,219.9 L50.6,220.4 Q45.800000000000004,219.4 46.0,203.4 Q46.2,186.4 49.6,185.6 Z" fill="#4c0b19"/>
<polygon points="57.20,183.40 60.60,182.80 63.60,182.00 74.60,182.00 74.60,184.00 63.60,184.60 59.60,185.70 57.20,185.70" fill="#3e0a16"/>
</g>
<ellipse filter="url(#bl1)" cx="72.6" cy="178.9" rx="5" ry="3.8" fill="#b04a30" opacity="0.9"/>
<ellipse filter="url(#bl15)" cx="76.6" cy="187.9" rx="8" ry="2.5" fill="#f2e0d8" opacity="0.9"/>
<polygon filter="url(#bl06)" points="49.60,219.40 60.60,218.90 67.60,221.40 74.60,223.90 74.60,226.40 66.60,225.60 55.60,224.20 50.60,222.40" fill="#a03a2c" opacity="0.85"/>
<polygon filter="url(#bl06)" points="61.60,218.40 67.60,222.40 74.60,225.40 72.60,226.90 65.60,223.40" fill="#5a1420" opacity="0.7"/>
<rect filter="url(#bl06)" x="88.6" y="172.20000000000002" width="1.2" height="4" fill="#b05040"/>
</g>
<rect x="41.60" y="170.40" width="87.4" height="65.8" fill="none" stroke="#5c5c5c" stroke-width="0.9"/>
<line x1="55.60" y1="236.20" x2="55.60" y2="238.80" stroke="#5c5c5c" stroke-width="0.9"/>
<line x1="79.95" y1="236.20" x2="79.95" y2="238.80" stroke="#5c5c5c" stroke-width="0.9"/>
<line x1="104.30" y1="236.20" x2="104.30" y2="238.80" stroke="#5c5c5c" stroke-width="0.9"/>
<line x1="128.65" y1="236.20" x2="128.65" y2="238.80" stroke="#5c5c5c" stroke-width="0.9"/>
<line x1="39.00" y1="172.00" x2="41.60" y2="172.00" stroke="#5c5c5c" stroke-width="0.9"/>
<text x="37.20" y="174.20" font-size="6.6000000000000005" text-anchor="end" fill="#222" stroke="#222" stroke-width="0.1" textLength="7.63" lengthAdjust="spacingAndGlyphs" >80</text>
<line x1="39.00" y1="187.60" x2="41.60" y2="187.60" stroke="#5c5c5c" stroke-width="0.9"/>
<text x="37.20" y="189.80" font-size="6.6000000000000005" text-anchor="end" fill="#222" stroke="#222" stroke-width="0.1" textLength="7.63" lengthAdjust="spacingAndGlyphs" >60</text>
<line x1="39.00" y1="203.40" x2="41.60" y2="203.40" stroke="#5c5c5c" stroke-width="0.9"/>
<text x="37.20" y="205.60" font-size="6.6000000000000005" text-anchor="end" fill="#222" stroke="#222" stroke-width="0.1" textLength="7.63" lengthAdjust="spacingAndGlyphs" >40</text>
<line x1="39.00" y1="219.00" x2="41.60" y2="219.00" stroke="#5c5c5c" stroke-width="0.9"/>
<text x="37.20" y="221.20" font-size="6.6000000000000005" text-anchor="end" fill="#222" stroke="#222" stroke-width="0.1" textLength="7.63" lengthAdjust="spacingAndGlyphs" >20</text>
<line x1="39.00" y1="234.40" x2="41.60" y2="234.40" stroke="#5c5c5c" stroke-width="0.9"/>
<text x="37.20" y="236.60" font-size="6.6000000000000005" text-anchor="end" fill="#222" stroke="#222" stroke-width="0.1" textLength="3.82" lengthAdjust="spacingAndGlyphs" >0</text>
<text x="45.60" y="179.40" font-size="8.48" text-anchor="middle" fill="#111" font-weight="bold" stroke="#111" stroke-width="0.25" textLength="2.74" lengthAdjust="spacingAndGlyphs" >i</text>
<text x="52.90" y="179.30" font-size="7.9750000000000005" text-anchor="start" fill="#222" stroke="#222" stroke-width="0.1" textLength="15.57" lengthAdjust="spacingAndGlyphs" >Melt</text>
<text x="124.50" y="233.30" font-size="6.6000000000000005" text-anchor="end" fill="#222" stroke="#222" stroke-width="0.1" textLength="29.15" lengthAdjust="spacingAndGlyphs" >3.33 m/yr</text>
<rect x="136.7" y="170.4" width="87.4" height="65.8" fill="#efebea"/>
<g clip-path="url(#pc10)">
<polygon filter="url(#bl06)" points="154.20,172.00 184.50,172.00 184.50,230.40 170.70,226.40 156.70,223.90 146.70,220.40 141.70,216.40 141.70,189.40 144.70,185.90 154.20,183.90" fill="url(#g14)"/>
<polygon filter="url(#bl1)" points="154.20,172.00 166.70,172.00 169.70,178.40 166.70,182.90 154.20,183.90" fill="#ead2ca"/>
<g filter="url(#bl06)">
<polyline points="142.30,212.90 142.50,189.90 143.00,188.40 146.50,188.20 146.90,187.00 150.20,186.80 150.60,185.40 154.70,185.20 155.10,183.80 163.70,183.40" fill="none" stroke="#c85a44" stroke-width="3.0" stroke-opacity="0.75"/>
<polyline points="142.50,189.90 143.00,188.40 146.50,188.20 146.90,187.00 150.20,186.80 150.60,185.40 154.70,185.20 155.10,183.80 163.70,183.40" fill="none" stroke="#3a0a14" stroke-width="1.6"/>
<polyline points="142.50,216.40 142.30,190.40" fill="none" stroke="#a83a30" stroke-width="2.0" stroke-opacity="0.8"/>
<polyline points="142.30,206.40 142.30,190.40" fill="none" stroke="#5a1420" stroke-width="1.2"/>
</g>
<ellipse filter="url(#bl1)" cx="166.7" cy="181.4" rx="2.5" ry="2.2" fill="#c8644c" opacity="0.6"/>
<circle cx="184.5" cy="173.0" r="0.6" fill="#902828"/>
</g>
<rect x="136.70" y="170.40" width="87.4" height="65.8" fill="none" stroke="#5c5c5c" stroke-width="0.9"/>
<line x1="150.70" y1="236.20" x2="150.70" y2="238.80" stroke="#5c5c5c" stroke-width="0.9"/>
<line x1="175.05" y1="236.20" x2="175.05" y2="238.80" stroke="#5c5c5c" stroke-width="0.9"/>
<line x1="199.40" y1="236.20" x2="199.40" y2="238.80" stroke="#5c5c5c" stroke-width="0.9"/>
<line x1="223.75" y1="236.20" x2="223.75" y2="238.80" stroke="#5c5c5c" stroke-width="0.9"/>
<line x1="134.10" y1="172.00" x2="136.70" y2="172.00" stroke="#5c5c5c" stroke-width="0.9"/>
<line x1="134.10" y1="187.60" x2="136.70" y2="187.60" stroke="#5c5c5c" stroke-width="0.9"/>
<line x1="134.10" y1="203.40" x2="136.70" y2="203.40" stroke="#5c5c5c" stroke-width="0.9"/>
<line x1="134.10" y1="219.00" x2="136.70" y2="219.00" stroke="#5c5c5c" stroke-width="0.9"/>
<line x1="134.10" y1="234.40" x2="136.70" y2="234.40" stroke="#5c5c5c" stroke-width="0.9"/>
<text x="140.70" y="179.40" font-size="8.48" text-anchor="middle" fill="#111" font-weight="bold" stroke="#111" stroke-width="0.25" textLength="2.74" lengthAdjust="spacingAndGlyphs" >j</text>
<text x="148.00" y="179.30" font-size="7.9750000000000005" text-anchor="start" fill="#222" stroke="#222" stroke-width="0.1" textLength="15.57" lengthAdjust="spacingAndGlyphs" >Melt</text>
<text x="219.60" y="233.30" font-size="6.6000000000000005" text-anchor="end" fill="#222" stroke="#222" stroke-width="0.1" textLength="29.15" lengthAdjust="spacingAndGlyphs" >0.74 m/yr</text>
<rect x="274.5" y="170.4" width="87.4" height="65.8" fill="#efebea"/>
<g clip-path="url(#pc11)">
<polygon filter="url(#bl1)" points="292.00,172.00 322.00,172.00 322.00,227.90 304.50,225.40 292.50,223.40 282.50,221.40 279.50,215.40 279.50,189.40 282.50,184.90 292.00,183.40" fill="url(#g15)"/>
<path filter="url(#bl1)" d="M280.5,184.9 L288.5,185.4 L292.5,186.4 L292.5,220.4 L288.5,221.4 L280.5,221.4 Z" fill="url(#g16)"/>
<path filter="url(#bl06)" d="M281.7,186.4 Q278.1,203.4 281.7,220.4 L283.1,219.4 Q282.7,203.4 283.1,187.4 Z" fill="#4a0c18"/>
<ellipse filter="url(#bl1)" cx="298.5" cy="229.9" rx="3.5" ry="1.2" fill="#c8dce6"/>
</g>
<rect x="274.50" y="170.40" width="87.4" height="65.8" fill="none" stroke="#5c5c5c" stroke-width="0.9"/>
<line x1="288.50" y1="236.20" x2="288.50" y2="238.80" stroke="#5c5c5c" stroke-width="0.9"/>
<line x1="312.85" y1="236.20" x2="312.85" y2="238.80" stroke="#5c5c5c" stroke-width="0.9"/>
<line x1="337.20" y1="236.20" x2="337.20" y2="238.80" stroke="#5c5c5c" stroke-width="0.9"/>
<line x1="361.55" y1="236.20" x2="361.55" y2="238.80" stroke="#5c5c5c" stroke-width="0.9"/>
<line x1="271.90" y1="172.00" x2="274.50" y2="172.00" stroke="#5c5c5c" stroke-width="0.9"/>
<line x1="271.90" y1="187.60" x2="274.50" y2="187.60" stroke="#5c5c5c" stroke-width="0.9"/>
<line x1="271.90" y1="203.40" x2="274.50" y2="203.40" stroke="#5c5c5c" stroke-width="0.9"/>
<line x1="271.90" y1="219.00" x2="274.50" y2="219.00" stroke="#5c5c5c" stroke-width="0.9"/>
<line x1="271.90" y1="234.40" x2="274.50" y2="234.40" stroke="#5c5c5c" stroke-width="0.9"/>
<text x="278.50" y="179.40" font-size="8.48" text-anchor="middle" fill="#111" font-weight="bold" stroke="#111" stroke-width="0.25" textLength="5.32" lengthAdjust="spacingAndGlyphs" >k</text>
<text x="285.80" y="179.30" font-size="7.9750000000000005" text-anchor="start" fill="#222" stroke="#222" stroke-width="0.1" textLength="15.57" lengthAdjust="spacingAndGlyphs" >Melt</text>
<text x="357.40" y="233.30" font-size="6.6000000000000005" text-anchor="end" fill="#222" stroke="#222" stroke-width="0.1" textLength="32.97" lengthAdjust="spacingAndGlyphs" >0.062 m/yr</text>
<rect x="370.3" y="170.4" width="87.4" height="65.8" fill="#efebea"/>
<g clip-path="url(#pc12)">
<polygon filter="url(#bl1)" points="387.80,172.00 417.80,172.00 417.80,227.90 400.30,225.40 388.30,223.40 378.30,221.40 375.30,215.40 375.30,189.40 378.30,184.90 387.80,183.40" fill="url(#g17)"/>
<path filter="url(#bl1)" d="M376.3,184.9 L384.3,185.4 L388.3,186.4 L388.3,220.4 L384.3,221.4 L376.3,221.4 Z" fill="url(#g18)"/>
<path filter="url(#bl06)" d="M377.5,186.4 Q374.1,203.4 377.5,220.4 L379.3,219.4 Q378.8,203.4 379.3,187.4 Z" fill="#cc644c"/>
<ellipse filter="url(#bl1)" cx="394.3" cy="229.9" rx="3.5" ry="1.2" fill="#c8dce6"/>
</g>
<rect x="370.30" y="170.40" width="87.4" height="65.8" fill="none" stroke="#5c5c5c" stroke-width="0.9"/>
<line x1="384.30" y1="236.20" x2="384.30" y2="238.80" stroke="#5c5c5c" stroke-width="0.9"/>
<line x1="408.65" y1="236.20" x2="408.65" y2="238.80" stroke="#5c5c5c" stroke-width="0.9"/>
<line x1="433.00" y1="236.20" x2="433.00" y2="238.80" stroke="#5c5c5c" stroke-width="0.9"/>
<line x1="457.35" y1="236.20" x2="457.35" y2="238.80" stroke="#5c5c5c" stroke-width="0.9"/>
<line x1="367.70" y1="172.00" x2="370.30" y2="172.00" stroke="#5c5c5c" stroke-width="0.9"/>
<line x1="367.70" y1="187.60" x2="370.30" y2="187.60" stroke="#5c5c5c" stroke-width="0.9"/>
<line x1="367.70" y1="203.40" x2="370.30" y2="203.40" stroke="#5c5c5c" stroke-width="0.9"/>
<line x1="367.70" y1="219.00" x2="370.30" y2="219.00" stroke="#5c5c5c" stroke-width="0.9"/>
<line x1="367.70" y1="234.40" x2="370.30" y2="234.40" stroke="#5c5c5c" stroke-width="0.9"/>
<text x="374.30" y="179.40" font-size="8.48" text-anchor="middle" fill="#111" font-weight="bold" stroke="#111" stroke-width="0.25" textLength="2.74" lengthAdjust="spacingAndGlyphs" >l</text>
<text x="381.60" y="179.30" font-size="7.9750000000000005" text-anchor="start" fill="#222" stroke="#222" stroke-width="0.1" textLength="15.57" lengthAdjust="spacingAndGlyphs" >Melt</text>
<text x="453.20" y="233.30" font-size="6.6000000000000005" text-anchor="end" fill="#222" stroke="#222" stroke-width="0.1" textLength="32.97" lengthAdjust="spacingAndGlyphs" >0.036 m/yr</text>
<rect x="41.6" y="242.5" width="87.4" height="65.8" fill="#e6e6e6"/>
<g clip-path="url(#pc13)">
<rect x="48.1" y="292.5" width="87.4" height="16" fill="#efebea"/>
<path d="M131.00,299.30 L54.40,299.30 A5.00,5.00 0 0 1 49.40,294.30 L49.40,282.70 A28.00,30.00 0 0 1 77.40,252.70 L131.00,252.70 Z" fill="#f0e4e0" stroke="#3a2a2a" stroke-width="0.4" stroke-opacity="0.65"/>
<path d="M131.00,296.91 L55.66,296.91 A4.90,4.90 0 0 1 50.76,292.01 L50.76,281.97 A27.20,28.70 0 0 1 77.96,253.26 L131.00,253.26 Z" fill="#efd6cc" stroke="#3a2a2a" stroke-width="0.4" stroke-opacity="0.65"/>
<path d="M131.00,294.52 L57.39,294.52 A4.76,4.76 0 0 1 52.63,289.76 L52.63,280.95 A26.10,26.91 0 0 1 78.73,254.04 L131.00,254.04 Z" fill="#ecc0b0" stroke="#3a2a2a" stroke-width="0.4" stroke-opacity="0.65"/>
<path d="M131.00,292.13 L59.37,292.13 A4.61,4.61 0 0 1 54.76,287.52 L54.76,279.80 A24.85,24.88 0 0 1 79.61,254.93 L131.00,254.93 Z" fill="#e8a890" stroke="#3a2a2a" stroke-width="0.4" stroke-opacity="0.65"/>
<path d="M131.00,289.74 L61.52,289.74 A4.44,4.44 0 0 1 57.08,285.30 L57.08,278.55 A23.48,22.66 0 0 1 80.56,255.89 L131.00,255.89 Z" fill="#e48e72" stroke="#3a2a2a" stroke-width="0.4" stroke-opacity="0.65"/>
<path d="M131.00,287.35 L63.81,287.35 A4.25,4.25 0 0 1 59.55,283.09 L59.55,277.21 A22.03,20.30 0 0 1 81.58,256.92 L131.00,256.92 Z" fill="#dc7458" stroke="#3a2a2a" stroke-width="0.4" stroke-opacity="0.65"/>
<path d="M131.00,284.95 L66.21,284.95 A4.06,4.06 0 0 1 62.15,280.89 L62.15,275.81 A20.50,17.81 0 0 1 82.65,258.00 L131.00,258.00 Z" fill="#d05c42" stroke="#3a2a2a" stroke-width="0.4" stroke-opacity="0.65"/>
<path d="M131.00,282.56 L68.72,282.56 A3.86,3.86 0 0 1 64.86,278.70 L64.86,274.34 A18.91,15.22 0 0 1 83.77,259.12 L131.00,259.12 Z" fill="#c44632" stroke="#3a2a2a" stroke-width="0.4" stroke-opacity="0.65"/>
<path d="M131.00,280.17 L71.32,280.17 A3.66,3.66 0 0 1 67.67,276.52 L67.67,272.83 A17.25,12.54 0 0 1 84.92,260.29 L131.00,260.29 Z" fill="#b5322e" stroke="#3a2a2a" stroke-width="0.4" stroke-opacity="0.65"/>
<path d="M131.00,277.78 L74.01,277.78 A3.44,3.44 0 0 1 70.57,274.34 L70.57,271.26 A15.55,9.77 0 0 1 86.12,261.49 L131.00,261.49 Z" fill="#a42430" stroke="#3a2a2a" stroke-width="0.4" stroke-opacity="0.65"/>
<path d="M131.00,275.39 L76.77,275.39 A3.22,3.22 0 0 1 73.55,272.17 L73.55,269.65 A13.80,6.92 0 0 1 87.34,262.73 L131.00,262.73 Z" fill="#8e1a30" stroke="#3a2a2a" stroke-width="0.4" stroke-opacity="0.65"/>
<path d="M131.00,273.00 L79.60,273.00 A3.00,3.00 0 0 1 76.60,270.00 L76.60,268.00 A12.00,4.00 0 0 1 88.60,264.00 L131.00,264.00 Z" fill="#7a1030" stroke="#3a2a2a" stroke-width="0.4" stroke-opacity="0.65"/>
<rect x="90.0" y="241.5" width="87.4" height="15.4" fill="#e6e6e6"/>
<line x1="90.0" y1="256.9" x2="129.0" y2="256.9" stroke="#6a4040" stroke-width="0.4" stroke-opacity="0.6"/>
<rect x="127.4" y="256.9" width="1.6" height="43" fill="#3a1018" opacity="0.4"/>
<line x1="46.6" y1="250.5" x2="46.6" y2="302.5" stroke="#f4f4f4" stroke-width="0.8"/>
<line x1="51.1" y1="248.5" x2="51.1" y2="272.5" stroke="#d0d0d0" stroke-width="0.5"/>
</g>
<rect x="41.60" y="242.50" width="87.4" height="65.8" fill="none" stroke="#5c5c5c" stroke-width="0.9"/>
<line x1="55.60" y1="308.30" x2="55.60" y2="310.90" stroke="#5c5c5c" stroke-width="0.9"/>
<text x="55.60" y="318.20" font-size="6.6000000000000005" text-anchor="middle" fill="#222" stroke="#222" stroke-width="0.1" textLength="11.45" lengthAdjust="spacingAndGlyphs" >500</text>
<line x1="79.95" y1="308.30" x2="79.95" y2="310.90" stroke="#5c5c5c" stroke-width="0.9"/>
<text x="79.95" y="318.20" font-size="6.6000000000000005" text-anchor="middle" fill="#222" stroke="#222" stroke-width="0.1" textLength="11.45" lengthAdjust="spacingAndGlyphs" >600</text>
<line x1="104.30" y1="308.30" x2="104.30" y2="310.90" stroke="#5c5c5c" stroke-width="0.9"/>
<text x="104.30" y="318.20" font-size="6.6000000000000005" text-anchor="middle" fill="#222" stroke="#222" stroke-width="0.1" textLength="11.45" lengthAdjust="spacingAndGlyphs" >700</text>
<line x1="128.65" y1="308.30" x2="128.65" y2="310.90" stroke="#5c5c5c" stroke-width="0.9"/>
<text x="128.65" y="318.20" font-size="6.6000000000000005" text-anchor="middle" fill="#222" stroke="#222" stroke-width="0.1" textLength="11.45" lengthAdjust="spacingAndGlyphs" >800</text>
<line x1="39.00" y1="242.50" x2="41.60" y2="242.50" stroke="#5c5c5c" stroke-width="0.9"/>
<text x="37.20" y="244.70" font-size="6.6000000000000005" text-anchor="end" fill="#222" stroke="#222" stroke-width="0.1" textLength="20.99" lengthAdjust="spacingAndGlyphs" >1027.0</text>
<line x1="39.00" y1="258.00" x2="41.60" y2="258.00" stroke="#5c5c5c" stroke-width="0.9"/>
<text x="37.20" y="260.20" font-size="6.6000000000000005" text-anchor="end" fill="#222" stroke="#222" stroke-width="0.1" textLength="20.99" lengthAdjust="spacingAndGlyphs" >1027.2</text>
<line x1="39.00" y1="273.50" x2="41.60" y2="273.50" stroke="#5c5c5c" stroke-width="0.9"/>
<text x="37.20" y="275.70" font-size="6.6000000000000005" text-anchor="end" fill="#222" stroke="#222" stroke-width="0.1" textLength="20.99" lengthAdjust="spacingAndGlyphs" >1027.4</text>
<line x1="39.00" y1="289.00" x2="41.60" y2="289.00" stroke="#5c5c5c" stroke-width="0.9"/>
<text x="37.20" y="291.20" font-size="6.6000000000000005" text-anchor="end" fill="#222" stroke="#222" stroke-width="0.1" textLength="20.99" lengthAdjust="spacingAndGlyphs" >1027.6</text>
<line x1="39.00" y1="304.50" x2="41.60" y2="304.50" stroke="#5c5c5c" stroke-width="0.9"/>
<text x="37.20" y="306.70" font-size="6.6000000000000005" text-anchor="end" fill="#222" stroke="#222" stroke-width="0.1" textLength="20.99" lengthAdjust="spacingAndGlyphs" >1027.8</text>
<text x="45.60" y="251.50" font-size="8.48" text-anchor="middle" fill="#111" font-weight="bold" stroke="#111" stroke-width="0.25" textLength="8.34" lengthAdjust="spacingAndGlyphs" >m</text>
<text x="52.90" y="251.40" font-size="7.9750000000000005" text-anchor="start" fill="#222" stroke="#222" stroke-width="0.1" textLength="43.54" lengthAdjust="spacingAndGlyphs" >Overturning</text>
<text x="48.20" y="305.30" font-size="6.6000000000000005" text-anchor="start" fill="#222" stroke="#222" stroke-width="0.1" textLength="22.75" lengthAdjust="spacingAndGlyphs" >86 mSv</text>
<text x="85.30" y="325.50" font-size="6.6000000000000005" text-anchor="middle" fill="#222" stroke="#222" stroke-width="0.1" textLength="19.46" lengthAdjust="spacingAndGlyphs" >x (km)</text>
<rect x="136.7" y="242.5" width="87.4" height="65.8" fill="#e6e6e6"/>
<g clip-path="url(#pc14)">
<polygon points="141.20,291.50 225.10,291.50 225.10,309.30 214.80,309.30 214.80,302.00 167.00,302.00 163.70,298.80 139.20,298.60 139.20,296.50" fill="#f0e4e0" stroke="#8a8a8a" stroke-width="0.3" stroke-opacity="0.7"/>
<polygon points="141.70,292.00 225.10,292.00 225.10,296.90 141.70,296.90" fill="#ecd2c9"/>
<polygon points="141.30,296.50 142.00,293.70 143.50,284.60 148.00,274.00 152.60,266.60 155.60,260.50 161.60,256.80 166.70,256.10 182.70,255.90 184.50,259.00 185.60,261.10 225.10,260.90 225.10,291.90 142.70,291.90" fill="#efdcd6" stroke="#6a6a6a" stroke-width="0.35" stroke-opacity="0.8"/>
<polygon points="145.80,291.90 147.30,283.00 151.00,275.60 157.00,269.60 166.00,265.00 168.40,262.00 176.00,261.40 225.10,261.30 225.10,291.90" fill="#e6c2b4" stroke="#6a5a5a" stroke-width="0.35" stroke-opacity="0.75"/>
<polygon filter="url(#bl15)" points="154.70,288.50 156.70,278.50 160.70,272.50 171.70,268.50 227.10,266.00 227.10,285.50 154.70,287.50" fill="#e0b4a4"/>
<polyline points="150.70,269.50 154.70,265.50 158.70,263.00 163.70,261.70 169.70,261.30 176.70,259.70 184.50,259.30" fill="none" stroke="#7a7a7a" stroke-width="0.3" stroke-opacity="0.8"/>
<polyline points="146.50,254.50 146.50,277.50" fill="none" stroke="#8a8a8a" stroke-width="0.35"/>
<polyline points="140.70,272.50 141.50,287.50 140.90,297.50" fill="none" stroke="#9a9a9a" stroke-width="0.3"/>
</g>
<rect x="136.70" y="242.50" width="87.4" height="65.8" fill="none" stroke="#5c5c5c" stroke-width="0.9"/>
<line x1="150.70" y1="308.30" x2="150.70" y2="310.90" stroke="#5c5c5c" stroke-width="0.9"/>
<text x="150.70" y="318.20" font-size="6.6000000000000005" text-anchor="middle" fill="#222" stroke="#222" stroke-width="0.1" textLength="11.45" lengthAdjust="spacingAndGlyphs" >500</text>
<line x1="175.05" y1="308.30" x2="175.05" y2="310.90" stroke="#5c5c5c" stroke-width="0.9"/>
<text x="175.05" y="318.20" font-size="6.6000000000000005" text-anchor="middle" fill="#222" stroke="#222" stroke-width="0.1" textLength="11.45" lengthAdjust="spacingAndGlyphs" >600</text>
<line x1="199.40" y1="308.30" x2="199.40" y2="310.90" stroke="#5c5c5c" stroke-width="0.9"/>
<text x="199.40" y="318.20" font-size="6.6000000000000005" text-anchor="middle" fill="#222" stroke="#222" stroke-width="0.1" textLength="11.45" lengthAdjust="spacingAndGlyphs" >700</text>
<line x1="223.75" y1="308.30" x2="223.75" y2="310.90" stroke="#5c5c5c" stroke-width="0.9"/>
<text x="223.75" y="318.20" font-size="6.6000000000000005" text-anchor="middle" fill="#222" stroke="#222" stroke-width="0.1" textLength="11.45" lengthAdjust="spacingAndGlyphs" >800</text>
<line x1="134.10" y1="242.50" x2="136.70" y2="242.50" stroke="#5c5c5c" stroke-width="0.9"/>
<line x1="134.10" y1="258.00" x2="136.70" y2="258.00" stroke="#5c5c5c" stroke-width="0.9"/>
<line x1="134.10" y1="273.50" x2="136.70" y2="273.50" stroke="#5c5c5c" stroke-width="0.9"/>
<line x1="134.10" y1="289.00" x2="136.70" y2="289.00" stroke="#5c5c5c" stroke-width="0.9"/>
<line x1="134.10" y1="304.50" x2="136.70" y2="304.50" stroke="#5c5c5c" stroke-width="0.9"/>
<text x="140.70" y="251.50" font-size="8.48" text-anchor="middle" fill="#111" font-weight="bold" stroke="#111" stroke-width="0.25" textLength="5.70" lengthAdjust="spacingAndGlyphs" >n</text>
<text x="148.00" y="251.40" font-size="7.9750000000000005" text-anchor="start" fill="#222" stroke="#222" stroke-width="0.1" textLength="43.54" lengthAdjust="spacingAndGlyphs" >Overturning</text>
<text x="143.30" y="305.30" font-size="6.6000000000000005" text-anchor="start" fill="#222" stroke="#222" stroke-width="0.1" textLength="22.75" lengthAdjust="spacingAndGlyphs" >20 mSv</text>
<text x="180.40" y="325.50" font-size="6.6000000000000005" text-anchor="middle" fill="#222" stroke="#222" stroke-width="0.1" textLength="19.46" lengthAdjust="spacingAndGlyphs" >x (km)</text>
<rect x="274.5" y="242.5" width="87.4" height="65.8" fill="#e6e6e6"/>
<g clip-path="url(#pc15)">
<polygon points="280.30,288.30 285.00,280.00 291.00,274.00 300.00,273.50 313.00,272.00 330.00,271.50 362.90,271.00 362.90,300.50 280.30,292.50" fill="#f1ddd6" stroke="#3a2a2a" stroke-width="0.4" stroke-opacity="0.65"/>
<polygon points="283.50,286.00 294.50,282.50 306.00,281.00 340.00,278.50 362.90,277.50 362.90,300.50 283.50,292.50" fill="#eccbbd" stroke="#3a2a2a" stroke-width="0.4" stroke-opacity="0.65"/>
<polygon points="282.50,286.50 285.50,285.40 306.00,283.30 340.00,281.00 362.90,280.30 362.90,300.50 282.50,292.50" fill="#e6ac96" stroke="#3a2a2a" stroke-width="0.4" stroke-opacity="0.65"/>
<polygon points="280.50,287.50 306.00,285.50 340.00,283.70 362.90,283.10 362.90,300.30 340.00,298.10 306.00,293.80 280.30,292.10" fill="#d8704e" stroke="#3a2a2a" stroke-width="0.4" stroke-opacity="0.65"/>
<polygon points="280.70,287.70 306.00,286.70 340.00,284.80 362.90,284.10 362.90,299.30 340.00,297.00 306.00,293.30 280.50,292.00" fill="#c4422f" stroke="#3a2a2a" stroke-width="0.4" stroke-opacity="0.65"/>
<polygon points="280.90,287.80 306.00,287.40 340.00,285.50 362.90,284.80 362.90,297.00 340.00,295.30 306.00,292.70 280.70,291.90" fill="#a8202e" stroke="#3a2a2a" stroke-width="0.4" stroke-opacity="0.65"/>
<polygon points="281.00,287.90 306.00,287.90 340.00,286.10 362.90,285.30 362.90,292.00 340.00,291.30 306.00,291.80 281.00,291.70" fill="#861630" stroke="#3a2a2a" stroke-width="0.4" stroke-opacity="0.65"/>
<polygon points="309.90,265.50 315.90,262.70 341.90,260.50 358.90,258.10 362.90,258.10 362.90,265.70 315.90,266.00" fill="url(#g19)" stroke="#4a6a80" stroke-width="0.35" stroke-opacity="0.6"/>
<polygon points="315.90,266.00 362.90,265.70 362.90,268.30 315.90,268.50" fill="#c8dae2" opacity="0.7"/>
<polygon points="306.90,268.00 362.90,268.00 362.90,271.00 306.90,270.70" fill="#e3e8ea"/>
<polygon points="293.50,263.50 295.50,262.70 306.50,262.50 308.50,264.50 312.70,268.00 311.50,268.70 306.50,267.00 300.00,266.00 293.50,265.10" fill="#f0e0dc" stroke="#3a2a2a" stroke-width="0.4" stroke-opacity="0.65"/>
<rect x="349.9" y="300.5" width="12" height="8" fill="#efe8e6"/>
<line x1="349.9" y1="299.5" x2="349.9" y2="308.3" stroke="#9a9a9a" stroke-width="0.35"/>
</g>
<rect x="274.50" y="242.50" width="87.4" height="65.8" fill="none" stroke="#5c5c5c" stroke-width="0.9"/>
<line x1="288.50" y1="308.30" x2="288.50" y2="310.90" stroke="#5c5c5c" stroke-width="0.9"/>
<text x="288.50" y="318.20" font-size="6.6000000000000005" text-anchor="middle" fill="#222" stroke="#222" stroke-width="0.1" textLength="11.45" lengthAdjust="spacingAndGlyphs" >500</text>
<line x1="312.85" y1="308.30" x2="312.85" y2="310.90" stroke="#5c5c5c" stroke-width="0.9"/>
<text x="312.85" y="318.20" font-size="6.6000000000000005" text-anchor="middle" fill="#222" stroke="#222" stroke-width="0.1" textLength="11.45" lengthAdjust="spacingAndGlyphs" >600</text>
<line x1="337.20" y1="308.30" x2="337.20" y2="310.90" stroke="#5c5c5c" stroke-width="0.9"/>
<text x="337.20" y="318.20" font-size="6.6000000000000005" text-anchor="middle" fill="#222" stroke="#222" stroke-width="0.1" textLength="11.45" lengthAdjust="spacingAndGlyphs" >700</text>
<line x1="361.55" y1="308.30" x2="361.55" y2="310.90" stroke="#5c5c5c" stroke-width="0.9"/>
<text x="361.55" y="318.20" font-size="6.6000000000000005" text-anchor="middle" fill="#222" stroke="#222" stroke-width="0.1" textLength="11.45" lengthAdjust="spacingAndGlyphs" >800</text>
<line x1="271.90" y1="242.50" x2="274.50" y2="242.50" stroke="#5c5c5c" stroke-width="0.9"/>
<line x1="271.90" y1="258.00" x2="274.50" y2="258.00" stroke="#5c5c5c" stroke-width="0.9"/>
<line x1="271.90" y1="273.50" x2="274.50" y2="273.50" stroke="#5c5c5c" stroke-width="0.9"/>
<line x1="271.90" y1="289.00" x2="274.50" y2="289.00" stroke="#5c5c5c" stroke-width="0.9"/>
<line x1="271.90" y1="304.50" x2="274.50" y2="304.50" stroke="#5c5c5c" stroke-width="0.9"/>
<text x="278.50" y="251.50" font-size="8.48" text-anchor="middle" fill="#111" font-weight="bold" stroke="#111" stroke-width="0.25" textLength="5.50" lengthAdjust="spacingAndGlyphs" >o</text>
<text x="285.80" y="251.40" font-size="7.9750000000000005" text-anchor="start" fill="#222" stroke="#222" stroke-width="0.1" textLength="43.54" lengthAdjust="spacingAndGlyphs" >Overturning</text>
<text x="281.10" y="305.30" font-size="6.6000000000000005" text-anchor="start" fill="#222" stroke="#222" stroke-width="0.1" textLength="24.65" lengthAdjust="spacingAndGlyphs" >4.9 mSv</text>
<text x="318.20" y="325.50" font-size="6.6000000000000005" text-anchor="middle" fill="#222" stroke="#222" stroke-width="0.1" textLength="19.46" lengthAdjust="spacingAndGlyphs" >x (km)</text>
<rect x="370.3" y="242.5" width="87.4" height="65.8" fill="#e6e6e6"/>
<g clip-path="url(#pc16)">
<polygon points="374.90,287.30 380.70,281.60 387.40,279.60 400.00,279.60 403.80,277.70 412.00,275.80 430.30,273.50 458.70,271.80 458.70,300.50 374.90,292.50" fill="#f1ddd6" stroke="#3a2a2a" stroke-width="0.4" stroke-opacity="0.65"/>
<polygon points="381.60,284.50 395.30,283.50 412.00,282.50 435.30,279.50 458.70,278.00 458.70,300.50 381.60,292.50" fill="#ecc8bc" stroke="#3a2a2a" stroke-width="0.4" stroke-opacity="0.65"/>
<polygon points="379.30,286.50 400.30,285.50 412.00,285.00 435.30,282.50 458.70,282.00 458.70,300.50 379.30,292.50" fill="#e6a890" stroke="#3a2a2a" stroke-width="0.4" stroke-opacity="0.65"/>
<polygon points="376.60,287.70 412.00,287.00 435.30,285.00 458.70,284.50 458.70,300.30 412.00,296.00 376.60,292.80" fill="#e08a6c" stroke="#3a2a2a" stroke-width="0.4" stroke-opacity="0.65"/>
<polygon points="376.80,289.10 412.00,288.50 435.30,287.00 458.70,286.30 458.70,299.80 412.00,295.30 376.80,292.70" fill="#d65c3e" stroke="#3a2a2a" stroke-width="0.4" stroke-opacity="0.65"/>
<polygon points="390.30,290.70 412.00,291.00 435.30,290.00 458.70,289.50 458.70,299.50 435.30,297.00 412.00,294.50 390.30,293.00" fill="#c94832" stroke="#3a2a2a" stroke-width="0.4" stroke-opacity="0.65"/>
<polygon points="430.30,293.50 458.70,292.00 458.70,299.50 430.30,296.00" fill="#b83228" stroke="#3a2a2a" stroke-width="0.4" stroke-opacity="0.65"/>
<polygon points="405.70,265.50 411.70,262.70 437.70,260.50 454.70,258.10 458.70,258.10 458.70,265.70 411.70,266.00" fill="url(#g20)" stroke="#4a6a80" stroke-width="0.35" stroke-opacity="0.6"/>
<polygon points="411.70,266.00 458.70,265.70 458.70,268.30 411.70,268.50" fill="#c8dae2" opacity="0.7"/>
<polygon points="402.70,268.00 458.70,268.00 458.70,271.00 402.70,270.70" fill="#e3e8ea"/>
<polygon points="389.30,263.50 391.30,262.70 402.30,262.50 404.30,264.50 408.50,268.00 407.30,268.70 402.30,267.00 395.80,266.00 389.30,265.10" fill="#f0e0dc" stroke="#3a2a2a" stroke-width="0.4" stroke-opacity="0.65"/>
<rect x="445.70000000000005" y="300.5" width="12" height="8" fill="#efe8e6"/>
<line x1="445.70000000000005" y1="299.5" x2="445.70000000000005" y2="308.3" stroke="#9a9a9a" stroke-width="0.35"/>
</g>
<rect x="370.30" y="242.50" width="87.4" height="65.8" fill="none" stroke="#5c5c5c" stroke-width="0.9"/>
<line x1="384.30" y1="308.30" x2="384.30" y2="310.90" stroke="#5c5c5c" stroke-width="0.9"/>
<text x="384.30" y="318.20" font-size="6.6000000000000005" text-anchor="middle" fill="#222" stroke="#222" stroke-width="0.1" textLength="11.45" lengthAdjust="spacingAndGlyphs" >500</text>
<line x1="408.65" y1="308.30" x2="408.65" y2="310.90" stroke="#5c5c5c" stroke-width="0.9"/>
<text x="408.65" y="318.20" font-size="6.6000000000000005" text-anchor="middle" fill="#222" stroke="#222" stroke-width="0.1" textLength="11.45" lengthAdjust="spacingAndGlyphs" >600</text>
<line x1="433.00" y1="308.30" x2="433.00" y2="310.90" stroke="#5c5c5c" stroke-width="0.9"/>
<text x="433.00" y="318.20" font-size="6.6000000000000005" text-anchor="middle" fill="#222" stroke="#222" stroke-width="0.1" textLength="11.45" lengthAdjust="spacingAndGlyphs" >700</text>
<line x1="457.35" y1="308.30" x2="457.35" y2="310.90" stroke="#5c5c5c" stroke-width="0.9"/>
<text x="457.35" y="318.20" font-size="6.6000000000000005" text-anchor="middle" fill="#222" stroke="#222" stroke-width="0.1" textLength="11.45" lengthAdjust="spacingAndGlyphs" >800</text>
<line x1="367.70" y1="242.50" x2="370.30" y2="242.50" stroke="#5c5c5c" stroke-width="0.9"/>
<line x1="367.70" y1="258.00" x2="370.30" y2="258.00" stroke="#5c5c5c" stroke-width="0.9"/>
<line x1="367.70" y1="273.50" x2="370.30" y2="273.50" stroke="#5c5c5c" stroke-width="0.9"/>
<line x1="367.70" y1="289.00" x2="370.30" y2="289.00" stroke="#5c5c5c" stroke-width="0.9"/>
<line x1="367.70" y1="304.50" x2="370.30" y2="304.50" stroke="#5c5c5c" stroke-width="0.9"/>
<text x="374.30" y="251.50" font-size="8.48" text-anchor="middle" fill="#111" font-weight="bold" stroke="#111" stroke-width="0.25" textLength="5.73" lengthAdjust="spacingAndGlyphs" >p</text>
<text x="381.60" y="251.40" font-size="7.9750000000000005" text-anchor="start" fill="#222" stroke="#222" stroke-width="0.1" textLength="43.54" lengthAdjust="spacingAndGlyphs" >Overturning</text>
<text x="376.90" y="305.30" font-size="6.6000000000000005" text-anchor="start" fill="#222" stroke="#222" stroke-width="0.1" textLength="24.65" lengthAdjust="spacingAndGlyphs" >3.5 mSv</text>
<text x="414.00" y="325.50" font-size="6.6000000000000005" text-anchor="middle" fill="#222" stroke="#222" stroke-width="0.1" textLength="19.46" lengthAdjust="spacingAndGlyphs" >x (km)</text>
<rect x="229.6" y="32.8" width="4.4" height="49.400000000000006" fill="url(#cb21)"/>
<path d="M229.6,33.099999999999994 L231.79999999999998,30.0 L234.0,33.099999999999994 Z" fill="#e8f65e"/>
<path d="M229.6,81.9 L231.79999999999998,85.0 L234.0,81.9 Z" fill="#04233e"/>
<path d="M229.6,32.8 L231.79999999999998,30.0 L234.0,32.8 L234.0,82.2 L231.79999999999998,85.0 L229.6,82.2 Z" fill="none" stroke="#333" stroke-width="0.35" stroke-opacity="0.6"/>
<line x1="234.00" y1="49.00" x2="236.20" y2="49.00" stroke="#5c5c5c" stroke-width="0.9"/>
<text x="238.30" y="51.30" font-size="6.6000000000000005" text-anchor="start" fill="#222" stroke="#222" stroke-width="0.1" textLength="3.82" lengthAdjust="spacingAndGlyphs" >0</text>
<line x1="234.00" y1="81.60" x2="236.20" y2="81.60" stroke="#5c5c5c" stroke-width="0.9"/>
<text x="238.30" y="83.90" font-size="6.6000000000000005" text-anchor="start" fill="#222" stroke="#222" stroke-width="0.1" textLength="8.84" lengthAdjust="spacingAndGlyphs" >−2</text>
<rect x="463.0" y="32.8" width="4.3" height="49.400000000000006" fill="url(#cb22)"/>
<path d="M463.0,33.099999999999994 L465.15,30.0 L467.3,33.099999999999994 Z" fill="#e8f65e"/>
<path d="M463.0,81.9 L465.15,85.0 L467.3,81.9 Z" fill="#04233e"/>
<path d="M463.0,32.8 L465.15,30.0 L467.3,32.8 L467.3,82.2 L465.15,85.0 L463.0,82.2 Z" fill="none" stroke="#333" stroke-width="0.35" stroke-opacity="0.6"/>
<line x1="467.30" y1="43.20" x2="469.50" y2="43.20" stroke="#5c5c5c" stroke-width="0.9"/>
<text x="471.60" y="45.50" font-size="6.6000000000000005" text-anchor="start" fill="#222" stroke="#222" stroke-width="0.1" textLength="14.57" lengthAdjust="spacingAndGlyphs" >−1.9</text>
<line x1="467.30" y1="62.80" x2="469.50" y2="62.80" stroke="#5c5c5c" stroke-width="0.9"/>
<text x="471.60" y="65.10" font-size="6.6000000000000005" text-anchor="start" fill="#222" stroke="#222" stroke-width="0.1" textLength="14.57" lengthAdjust="spacingAndGlyphs" >−2.0</text>
<line x1="467.30" y1="82.30" x2="469.50" y2="82.30" stroke="#5c5c5c" stroke-width="0.9"/>
<text x="471.60" y="84.60" font-size="6.6000000000000005" text-anchor="start" fill="#222" stroke="#222" stroke-width="0.1" textLength="14.57" lengthAdjust="spacingAndGlyphs" >−2.1</text>
<rect x="229.6" y="105.8" width="4.4" height="49.39999999999999" fill="url(#cb23)"/>
<path d="M229.6,106.1 L231.79999999999998,103.0 L234.0,106.1 Z" fill="#fdef9a"/>
<path d="M229.6,154.89999999999998 L231.79999999999998,158.0 L234.0,154.89999999999998 Z" fill="#2a186c"/>
<path d="M229.6,105.8 L231.79999999999998,103.0 L234.0,105.8 L234.0,155.2 L231.79999999999998,158.0 L229.6,155.2 Z" fill="none" stroke="#333" stroke-width="0.35" stroke-opacity="0.6"/>
<line x1="234.00" y1="116.30" x2="236.20" y2="116.30" stroke="#5c5c5c" stroke-width="0.9"/>
<text x="238.30" y="118.60" font-size="6.6000000000000005" text-anchor="start" fill="#222" stroke="#222" stroke-width="0.1" textLength="13.36" lengthAdjust="spacingAndGlyphs" >34.5</text>
<line x1="234.00" y1="140.60" x2="236.20" y2="140.60" stroke="#5c5c5c" stroke-width="0.9"/>
<text x="238.30" y="142.90" font-size="6.6000000000000005" text-anchor="start" fill="#222" stroke="#222" stroke-width="0.1" textLength="13.36" lengthAdjust="spacingAndGlyphs" >34.0</text>
<rect x="463.0" y="105.8" width="4.3" height="49.39999999999999" fill="url(#cb24)"/>
<path d="M463.0,106.1 L465.15,103.0 L467.3,106.1 Z" fill="#fdef9a"/>
<path d="M463.0,154.89999999999998 L465.15,158.0 L467.3,154.89999999999998 Z" fill="#2a186c"/>
<path d="M463.0,105.8 L465.15,103.0 L467.3,105.8 L467.3,155.2 L465.15,158.0 L463.0,155.2 Z" fill="none" stroke="#333" stroke-width="0.35" stroke-opacity="0.6"/>
<line x1="467.30" y1="116.30" x2="469.50" y2="116.30" stroke="#5c5c5c" stroke-width="0.9"/>
<text x="471.60" y="118.60" font-size="6.6000000000000005" text-anchor="start" fill="#222" stroke="#222" stroke-width="0.1" textLength="13.36" lengthAdjust="spacingAndGlyphs" >34.5</text>
<line x1="467.30" y1="140.60" x2="469.50" y2="140.60" stroke="#5c5c5c" stroke-width="0.9"/>
<text x="471.60" y="142.90" font-size="6.6000000000000005" text-anchor="start" fill="#222" stroke="#222" stroke-width="0.1" textLength="13.36" lengthAdjust="spacingAndGlyphs" >34.0</text>
<rect x="229.6" y="179.0" width="4.4" height="49.599999999999994" fill="url(#cb25)"/>
<path d="M229.6,179.3 L231.79999999999998,176.2 L234.0,179.3 Z" fill="#3c0912"/>
<path d="M229.6,228.29999999999998 L231.79999999999998,231.4 L234.0,228.29999999999998 Z" fill="#181c43"/>
<path d="M229.6,179.0 L231.79999999999998,176.2 L234.0,179.0 L234.0,228.6 L231.79999999999998,231.4 L229.6,228.6 Z" fill="none" stroke="#333" stroke-width="0.35" stroke-opacity="0.6"/>
<line x1="234.00" y1="183.80" x2="236.20" y2="183.80" stroke="#5c5c5c" stroke-width="0.9"/>
<text x="238.30" y="186.10" font-size="6.6000000000000005" text-anchor="start" fill="#222" stroke="#222" stroke-width="0.1" textLength="3.82" lengthAdjust="spacingAndGlyphs" >5</text>
<line x1="234.00" y1="203.90" x2="236.20" y2="203.90" stroke="#5c5c5c" stroke-width="0.9"/>
<text x="238.30" y="206.20" font-size="6.6000000000000005" text-anchor="start" fill="#222" stroke="#222" stroke-width="0.1" textLength="3.82" lengthAdjust="spacingAndGlyphs" >0</text>
<line x1="234.00" y1="224.20" x2="236.20" y2="224.20" stroke="#5c5c5c" stroke-width="0.9"/>
<text x="238.30" y="226.50" font-size="6.6000000000000005" text-anchor="start" fill="#222" stroke="#222" stroke-width="0.1" textLength="8.84" lengthAdjust="spacingAndGlyphs" >−5</text>
<rect x="463.0" y="179.0" width="4.3" height="49.599999999999994" fill="url(#cb26)"/>
<path d="M463.0,179.3 L465.15,176.2 L467.3,179.3 Z" fill="#3c0912"/>
<path d="M463.0,228.29999999999998 L465.15,231.4 L467.3,228.29999999999998 Z" fill="#181c43"/>
<path d="M463.0,179.0 L465.15,176.2 L467.3,179.0 L467.3,228.6 L465.15,231.4 L463.0,228.6 Z" fill="none" stroke="#333" stroke-width="0.35" stroke-opacity="0.6"/>
<line x1="467.30" y1="183.80" x2="469.50" y2="183.80" stroke="#5c5c5c" stroke-width="0.9"/>
<text x="471.60" y="186.10" font-size="6.6000000000000005" text-anchor="start" fill="#222" stroke="#222" stroke-width="0.1" textLength="9.54" lengthAdjust="spacingAndGlyphs" >0.5</text>
<line x1="467.30" y1="203.90" x2="469.50" y2="203.90" stroke="#5c5c5c" stroke-width="0.9"/>
<text x="471.60" y="206.20" font-size="6.6000000000000005" text-anchor="start" fill="#222" stroke="#222" stroke-width="0.1" textLength="9.54" lengthAdjust="spacingAndGlyphs" >0.0</text>
<line x1="467.30" y1="224.20" x2="469.50" y2="224.20" stroke="#5c5c5c" stroke-width="0.9"/>
<text x="471.60" y="226.50" font-size="6.6000000000000005" text-anchor="start" fill="#222" stroke="#222" stroke-width="0.1" textLength="14.57" lengthAdjust="spacingAndGlyphs" >−0.5</text>
<rect x="229.6" y="252.10000000000002" width="4.4" height="49.599999999999966" fill="url(#cb27)"/>
<path d="M229.6,252.40000000000003 L231.79999999999998,249.3 L234.0,252.40000000000003 Z" fill="#3c0912"/>
<path d="M229.6,301.4 L231.79999999999998,304.5 L234.0,301.4 Z" fill="#181c43"/>
<path d="M229.6,252.10000000000002 L231.79999999999998,249.3 L234.0,252.10000000000002 L234.0,301.7 L231.79999999999998,304.5 L229.6,301.7 Z" fill="none" stroke="#333" stroke-width="0.35" stroke-opacity="0.6"/>
<line x1="234.00" y1="252.00" x2="236.20" y2="252.00" stroke="#5c5c5c" stroke-width="0.9"/>
<text x="238.30" y="254.30" font-size="6.6000000000000005" text-anchor="start" fill="#222" stroke="#222" stroke-width="0.1" textLength="9.54" lengthAdjust="spacingAndGlyphs" >1.0</text>
<line x1="234.00" y1="264.40" x2="236.20" y2="264.40" stroke="#5c5c5c" stroke-width="0.9"/>
<text x="238.30" y="266.70" font-size="6.6000000000000005" text-anchor="start" fill="#222" stroke="#222" stroke-width="0.1" textLength="9.54" lengthAdjust="spacingAndGlyphs" >0.5</text>
<line x1="234.00" y1="276.80" x2="236.20" y2="276.80" stroke="#5c5c5c" stroke-width="0.9"/>
<text x="238.30" y="279.10" font-size="6.6000000000000005" text-anchor="start" fill="#222" stroke="#222" stroke-width="0.1" textLength="9.54" lengthAdjust="spacingAndGlyphs" >0.0</text>
<line x1="234.00" y1="289.20" x2="236.20" y2="289.20" stroke="#5c5c5c" stroke-width="0.9"/>
<text x="238.30" y="291.50" font-size="6.6000000000000005" text-anchor="start" fill="#222" stroke="#222" stroke-width="0.1" textLength="14.57" lengthAdjust="spacingAndGlyphs" >−0.5</text>
<line x1="234.00" y1="301.60" x2="236.20" y2="301.60" stroke="#5c5c5c" stroke-width="0.9"/>
<text x="238.30" y="303.90" font-size="6.6000000000000005" text-anchor="start" fill="#222" stroke="#222" stroke-width="0.1" textLength="14.57" lengthAdjust="spacingAndGlyphs" >−1.0</text>
<rect x="463.0" y="252.10000000000002" width="4.3" height="49.599999999999966" fill="url(#cb28)"/>
<path d="M463.0,252.40000000000003 L465.15,249.3 L467.3,252.40000000000003 Z" fill="#3c0912"/>
<path d="M463.0,301.4 L465.15,304.5 L467.3,301.4 Z" fill="#181c43"/>
<path d="M463.0,252.10000000000002 L465.15,249.3 L467.3,252.10000000000002 L467.3,301.7 L465.15,304.5 L463.0,301.7 Z" fill="none" stroke="#333" stroke-width="0.35" stroke-opacity="0.6"/>
<line x1="467.30" y1="252.00" x2="469.50" y2="252.00" stroke="#5c5c5c" stroke-width="0.9"/>
<text x="471.60" y="254.30" font-size="6.6000000000000005" text-anchor="start" fill="#222" stroke="#222" stroke-width="0.1" textLength="9.54" lengthAdjust="spacingAndGlyphs" >5.0</text>
<line x1="467.30" y1="264.40" x2="469.50" y2="264.40" stroke="#5c5c5c" stroke-width="0.9"/>
<text x="471.60" y="266.70" font-size="6.6000000000000005" text-anchor="start" fill="#222" stroke="#222" stroke-width="0.1" textLength="9.54" lengthAdjust="spacingAndGlyphs" >2.5</text>
<line x1="467.30" y1="276.80" x2="469.50" y2="276.80" stroke="#5c5c5c" stroke-width="0.9"/>
<text x="471.60" y="279.10" font-size="6.6000000000000005" text-anchor="start" fill="#222" stroke="#222" stroke-width="0.1" textLength="9.54" lengthAdjust="spacingAndGlyphs" >0.0</text>
<line x1="467.30" y1="289.20" x2="469.50" y2="289.20" stroke="#5c5c5c" stroke-width="0.9"/>
<text x="471.60" y="291.50" font-size="6.6000000000000005" text-anchor="start" fill="#222" stroke="#222" stroke-width="0.1" textLength="14.57" lengthAdjust="spacingAndGlyphs" >−2.5</text>
<line x1="467.30" y1="301.60" x2="469.50" y2="301.60" stroke="#5c5c5c" stroke-width="0.9"/>
<text x="471.60" y="303.90" font-size="6.6000000000000005" text-anchor="start" fill="#222" stroke="#222" stroke-width="0.1" textLength="14.57" lengthAdjust="spacingAndGlyphs" >−5.0</text>
<text x="230.50" y="248.00" font-size="6.6000000000000005" text-anchor="start" fill="#222" stroke="#222" stroke-width="0.1" textLength="12.66" lengthAdjust="spacingAndGlyphs" >×10</text>
<text x="243.36" y="244.60" font-size="4.4" text-anchor="start" fill="#222" stroke="#222" stroke-width="0.1" textLength="5.90" lengthAdjust="spacingAndGlyphs" >−1</text>
<text x="464.00" y="248.00" font-size="6.6000000000000005" text-anchor="start" fill="#222" stroke="#222" stroke-width="0.1" textLength="12.66" lengthAdjust="spacingAndGlyphs" >×10</text>
<text x="476.86" y="244.60" font-size="4.4" text-anchor="start" fill="#222" stroke="#222" stroke-width="0.1" textLength="5.90" lengthAdjust="spacingAndGlyphs" >−3</text>
<text x="258.60" y="130.50" font-size="6.6000000000000005" text-anchor="middle" fill="#222" stroke="#222" stroke-width="0.1" textLength="39.52" lengthAdjust="spacingAndGlyphs" transform="rotate(-90 258.60 130.50)" >Salinity (psu)</text>
<text x="253.60" y="203.50" font-size="6.6000000000000005" text-anchor="middle" fill="#222" stroke="#222" stroke-width="0.1" textLength="47.46" lengthAdjust="spacingAndGlyphs" transform="rotate(-90 253.60 203.50)" >Melt rate (m/yr)</text>
<text x="259.60" y="276.50" font-size="6.6000000000000005" text-anchor="middle" fill="#222" stroke="#222" stroke-width="0.1" textLength="49.98" lengthAdjust="spacingAndGlyphs" transform="rotate(-90 259.60 276.50)" >Overturning (Sv)</text>
<text x="493.00" y="130.50" font-size="6.6000000000000005" text-anchor="middle" fill="#222" stroke="#222" stroke-width="0.1" textLength="39.52" lengthAdjust="spacingAndGlyphs" transform="rotate(-90 493.00 130.50)" >Salinity (psu)</text>
<text x="492.00" y="203.50" font-size="6.6000000000000005" text-anchor="middle" fill="#222" stroke="#222" stroke-width="0.1" textLength="47.46" lengthAdjust="spacingAndGlyphs" transform="rotate(-90 492.00 203.50)" >Melt rate (m/yr)</text>
<text x="493.00" y="276.50" font-size="6.6000000000000005" text-anchor="middle" fill="#222" stroke="#222" stroke-width="0.1" textLength="49.98" lengthAdjust="spacingAndGlyphs" transform="rotate(-90 493.00 276.50)" >Overturning (Sv)</text>
<g transform="translate(253.9 57.3) rotate(-90)">
<text x="-28.15" y="0.00" font-size="6.6" text-anchor="start" fill="#222" stroke="#222" stroke-width="0.1" textLength="42.26" lengthAdjust="spacingAndGlyphs" >Temperature (</text>
<text x="19.02" y="-1.60" font-size="6.5" text-anchor="start" fill="#222" stroke="#222" stroke-width="0.1" >°</text>
<text x="21.62" y="0.00" font-size="6.6" text-anchor="start" fill="#222" stroke="#222" stroke-width="0.1" textLength="6.53" lengthAdjust="spacingAndGlyphs" >C)</text>
</g>
<g transform="translate(493.3 57.3) rotate(-90)">
<text x="-28.15" y="0.00" font-size="6.6" text-anchor="start" fill="#222" stroke="#222" stroke-width="0.1" textLength="42.26" lengthAdjust="spacingAndGlyphs" >Temperature (</text>
<text x="19.02" y="-1.60" font-size="6.5" text-anchor="start" fill="#222" stroke="#222" stroke-width="0.1" >°</text>
<text x="21.62" y="0.00" font-size="6.6" text-anchor="start" fill="#222" stroke="#222" stroke-width="0.1" textLength="6.53" lengthAdjust="spacingAndGlyphs" >C)</text>
</g>
<text x="20.80" y="59.40" font-size="6.6000000000000005" text-anchor="middle" fill="#222" stroke="#222" stroke-width="0.1" textLength="30.71" lengthAdjust="spacingAndGlyphs" transform="rotate(-90 20.80 59.40)" >Depth (m)</text>
<text x="20.80" y="131.40" font-size="6.6000000000000005" text-anchor="middle" fill="#222" stroke="#222" stroke-width="0.1" textLength="30.71" lengthAdjust="spacingAndGlyphs" transform="rotate(-90 20.80 131.40)" >Depth (m)</text>
<text x="20.80" y="203.30" font-size="6.6000000000000005" text-anchor="middle" fill="#222" stroke="#222" stroke-width="0.1" textLength="19.46" lengthAdjust="spacingAndGlyphs" transform="rotate(-90 20.80 203.30)" >y (km)</text>
<g transform="translate(10.9 275.3) rotate(-90)">
<text x="-23.61" y="0.00" font-size="6.6" text-anchor="start" fill="#222" stroke="#222" stroke-width="0.1" textLength="42.21" lengthAdjust="spacingAndGlyphs" >Density (kg/m</text>
<text x="18.60" y="-2.60" font-size="4.6" text-anchor="start" fill="#222" stroke="#222" stroke-width="0.1" textLength="2.67" lengthAdjust="spacingAndGlyphs" >3</text>
<text x="21.27" y="0.00" font-size="6.6" text-anchor="start" fill="#222" stroke="#222" stroke-width="0.1" textLength="2.34" lengthAdjust="spacingAndGlyphs" >)</text>
</g>
</svg></body></html>
